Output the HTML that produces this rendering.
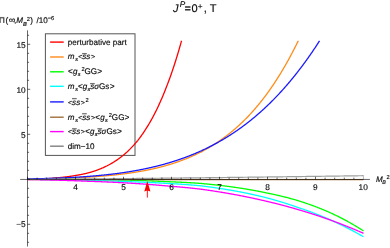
<!DOCTYPE html>
<html><head><meta charset="utf-8"><style>
html,body{margin:0;padding:0;background:#fff;}
svg{display:block;}
text{font-family:"Liberation Sans",sans-serif;}
</style></head><body>
<svg width="390" height="248" viewBox="0 0 390 248">
<rect width="390" height="248" fill="#fff"/>
<rect x="45.4" y="33.8" width="89.6" height="121.6" fill="#fff" stroke="#555" stroke-width="1"/>
<path d="M27.50,179.30 L27.98,179.30 L28.46,179.29 L28.94,179.29 L29.42,179.28 L29.90,179.28 L30.38,179.27 L30.86,179.27 L31.34,179.26 L31.82,179.25 L32.30,179.24 L32.78,179.24 L33.26,179.23 L33.74,179.22 L34.22,179.21 L34.70,179.20 L35.18,179.20 L35.66,179.19 L36.14,179.18 L36.62,179.17 L37.10,179.16 L37.58,179.14 L38.06,179.13 L38.54,179.12 L39.02,179.11 L39.50,179.10 L39.98,179.08 L40.46,179.07 L40.94,179.06 L41.42,179.04 L41.90,179.03 L42.38,179.00 L42.86,178.97 L43.34,178.93 L43.82,178.90 L44.30,178.87 L44.78,178.84 L45.26,178.80 L45.74,178.77 L46.22,178.74 L46.70,178.70 L47.18,178.67 L47.66,178.63 L48.14,178.59 L48.62,178.56 L49.10,178.52 L49.58,178.48 L50.06,178.44 L50.54,178.40 L51.02,178.36 L51.50,178.32 L51.98,178.28 L52.46,178.24 L52.94,178.19 L53.42,178.15 L53.90,178.10 L54.38,178.06 L54.86,178.01 L55.34,177.97 L55.82,177.92 L56.30,177.87 L56.78,177.83 L57.26,177.79 L57.74,177.75 L58.22,177.70 L58.70,177.66 L59.18,177.62 L59.66,177.57 L60.14,177.53 L60.62,177.48 L61.10,177.43 L61.58,177.38 L62.06,177.33 L62.54,177.28 L63.02,177.23 L63.50,177.18 L63.98,177.12 L64.46,177.07 L64.94,177.01 L65.42,176.96 L65.90,176.90 L66.38,176.84 L66.86,176.78 L67.34,176.72 L67.82,176.65 L68.30,176.59 L68.78,176.53 L69.26,176.46 L69.74,176.39 L70.22,176.32 L70.70,176.25 L71.18,176.18 L71.66,176.11 L72.14,176.04 L72.62,175.96 L73.10,175.88 L73.58,175.81 L74.06,175.73 L74.54,175.65 L75.02,175.56 L75.50,175.48 L75.98,175.40 L76.46,175.33 L76.94,175.25 L77.42,175.17 L77.90,175.08 L78.38,175.00 L78.86,174.91 L79.34,174.83 L79.82,174.74 L80.30,174.65 L80.78,174.55 L81.26,174.46 L81.74,174.36 L82.22,174.27 L82.70,174.17 L83.18,174.06 L83.66,173.96 L84.14,173.86 L84.62,173.75 L85.10,173.64 L85.58,173.53 L86.06,173.41 L86.54,173.30 L87.02,173.18 L87.50,173.06 L87.98,172.94 L88.46,172.82 L88.94,172.69 L89.42,172.56 L89.90,172.43 L90.38,172.29 L90.86,172.15 L91.34,172.01 L91.82,171.86 L92.30,171.72 L92.78,171.57 L93.26,171.41 L93.74,171.26 L94.22,171.10 L94.70,170.94 L95.18,170.78 L95.66,170.61 L96.14,170.45 L96.62,170.27 L97.10,170.10 L97.58,169.92 L98.06,169.74 L98.54,169.56 L99.02,169.38 L99.50,169.19 L99.98,169.00 L100.46,168.80 L100.94,168.61 L101.42,168.41 L101.90,168.20 L102.38,168.00 L102.86,167.79 L103.34,167.57 L103.82,167.36 L104.30,167.14 L104.78,166.91 L105.26,166.69 L105.74,166.46 L106.22,166.22 L106.70,165.99 L107.18,165.74 L107.66,165.50 L108.14,165.25 L108.62,165.00 L109.10,164.74 L109.58,164.48 L110.06,164.22 L110.54,163.95 L111.02,163.68 L111.50,163.40 L111.98,163.12 L112.46,162.84 L112.94,162.55 L113.42,162.26 L113.90,161.96 L114.38,161.66 L114.86,161.36 L115.34,161.05 L115.82,160.73 L116.30,160.41 L116.78,160.09 L117.26,159.76 L117.74,159.43 L118.22,159.09 L118.70,158.75 L119.18,158.40 L119.66,158.05 L120.14,157.69 L120.62,157.33 L121.10,156.96 L121.58,156.59 L122.06,156.21 L122.54,155.82 L123.02,155.44 L123.50,155.04 L123.98,154.64 L124.46,154.23 L124.94,153.82 L125.42,153.40 L125.90,152.98 L126.38,152.55 L126.86,152.12 L127.34,151.67 L127.82,151.23 L128.30,150.77 L128.78,150.31 L129.26,149.85 L129.74,149.38 L130.22,148.90 L130.70,148.41 L131.18,147.92 L131.66,147.42 L132.14,146.92 L132.62,146.41 L133.10,145.89 L133.58,145.36 L134.06,144.83 L134.54,144.29 L135.02,143.75 L135.50,143.19 L135.98,142.63 L136.46,142.07 L136.94,141.49 L137.42,140.91 L137.90,140.32 L138.38,139.70 L138.86,139.08 L139.34,138.44 L139.82,137.80 L140.30,137.16 L140.78,136.50 L141.26,135.84 L141.74,135.16 L142.22,134.48 L142.70,133.79 L143.18,133.10 L143.66,132.39 L144.14,131.67 L144.62,130.95 L145.10,130.22 L145.58,129.48 L146.06,128.72 L146.54,127.96 L147.02,127.19 L147.50,126.42 L147.98,125.63 L148.46,124.83 L148.94,124.02 L149.42,123.21 L149.90,122.38 L150.38,121.54 L150.86,120.69 L151.34,119.84 L151.82,118.97 L152.30,118.09 L152.78,117.20 L153.26,116.30 L153.74,115.39 L154.22,114.47 L154.70,113.53 L155.18,112.59 L155.66,111.63 L156.14,110.67 L156.62,109.69 L157.10,108.70 L157.58,107.70 L158.06,106.68 L158.54,105.66 L159.02,104.62 L159.50,103.57 L159.98,102.51 L160.46,101.44 L160.94,100.35 L161.42,99.26 L161.90,98.15 L162.38,97.02 L162.86,95.89 L163.34,94.74 L163.82,93.57 L164.30,92.40 L164.78,91.21 L165.26,90.01 L165.74,88.81 L166.22,87.59 L166.70,86.36 L167.18,85.12 L167.66,83.87 L168.14,82.60 L168.62,81.31 L169.10,80.01 L169.58,78.70 L170.06,77.37 L170.54,76.02 L171.02,74.67 L171.50,73.29 L171.98,71.90 L172.46,70.50 L172.94,69.07 L173.42,67.64 L173.90,66.18 L174.38,64.71 L174.86,63.23 L175.34,61.73 L175.82,60.21 L176.30,58.67 L176.78,57.12 L177.26,55.55 L177.74,53.96 L178.22,52.36 L178.70,50.73 L179.18,49.09 L179.66,47.44 L180.14,45.76 L180.62,44.07 L181.10,42.35 L181.53,40.79" stroke="#ff0000" stroke-width="1.3" fill="none" stroke-linejoin="round"/>
<path d="M27.50,178.94 L27.98,178.93 L28.46,178.93 L28.94,178.92 L29.42,178.91 L29.90,178.91 L30.38,178.90 L30.86,178.90 L31.34,178.89 L31.82,178.88 L32.30,178.88 L32.78,178.87 L33.26,178.86 L33.74,178.85 L34.22,178.85 L34.70,178.84 L35.18,178.83 L35.66,178.83 L36.14,178.82 L36.62,178.81 L37.10,178.80 L37.58,178.80 L38.06,178.79 L38.54,178.78 L39.02,178.77 L39.50,178.76 L39.98,178.76 L40.46,178.75 L40.94,178.74 L41.42,178.73 L41.90,178.72 L42.38,178.71 L42.86,178.70 L43.34,178.69 L43.82,178.68 L44.30,178.68 L44.78,178.67 L45.26,178.66 L45.74,178.65 L46.22,178.64 L46.70,178.63 L47.18,178.62 L47.66,178.61 L48.14,178.60 L48.62,178.59 L49.10,178.57 L49.58,178.56 L50.06,178.55 L50.54,178.54 L51.02,178.53 L51.50,178.52 L51.98,178.51 L52.46,178.50 L52.94,178.48 L53.42,178.47 L53.90,178.46 L54.38,178.45 L54.86,178.44 L55.34,178.42 L55.82,178.41 L56.30,178.40 L56.78,178.38 L57.26,178.37 L57.74,178.36 L58.22,178.34 L58.70,178.33 L59.18,178.32 L59.66,178.30 L60.14,178.29 L60.62,178.27 L61.10,178.26 L61.58,178.24 L62.06,178.23 L62.54,178.21 L63.02,178.20 L63.50,178.18 L63.98,178.17 L64.46,178.15 L64.94,178.14 L65.42,178.12 L65.90,178.10 L66.38,178.09 L66.86,178.07 L67.34,178.05 L67.82,178.03 L68.30,178.02 L68.78,178.00 L69.26,177.98 L69.74,177.96 L70.22,177.94 L70.70,177.93 L71.18,177.91 L71.66,177.89 L72.14,177.87 L72.62,177.85 L73.10,177.83 L73.58,177.81 L74.06,177.79 L74.54,177.77 L75.02,177.75 L75.50,177.73 L75.98,177.71 L76.46,177.68 L76.94,177.66 L77.42,177.64 L77.90,177.62 L78.38,177.60 L78.86,177.57 L79.34,177.55 L79.82,177.53 L80.30,177.50 L80.78,177.48 L81.26,177.46 L81.74,177.43 L82.22,177.41 L82.70,177.38 L83.18,177.36 L83.66,177.33 L84.14,177.31 L84.62,177.28 L85.10,177.25 L85.58,177.23 L86.06,177.20 L86.54,177.17 L87.02,177.15 L87.50,177.12 L87.98,177.09 L88.46,177.06 L88.94,177.03 L89.42,177.00 L89.90,176.98 L90.38,176.95 L90.86,176.92 L91.34,176.89 L91.82,176.85 L92.30,176.82 L92.78,176.79 L93.26,176.76 L93.74,176.73 L94.22,176.70 L94.70,176.66 L95.18,176.63 L95.66,176.60 L96.14,176.56 L96.62,176.53 L97.10,176.49 L97.58,176.46 L98.06,176.42 L98.54,176.39 L99.02,176.35 L99.50,176.32 L99.98,176.28 L100.46,176.24 L100.94,176.20 L101.42,176.17 L101.90,176.13 L102.38,176.09 L102.86,176.05 L103.34,176.01 L103.82,175.97 L104.30,175.93 L104.78,175.89 L105.26,175.85 L105.74,175.81 L106.22,175.76 L106.70,175.72 L107.18,175.68 L107.66,175.63 L108.14,175.59 L108.62,175.55 L109.10,175.50 L109.58,175.46 L110.06,175.41 L110.54,175.36 L111.02,175.32 L111.50,175.27 L111.98,175.22 L112.46,175.17 L112.94,175.13 L113.42,175.08 L113.90,175.03 L114.38,174.98 L114.86,174.93 L115.34,174.88 L115.82,174.82 L116.30,174.77 L116.78,174.72 L117.26,174.67 L117.74,174.61 L118.22,174.56 L118.70,174.50 L119.18,174.45 L119.66,174.39 L120.14,174.33 L120.62,174.28 L121.10,174.22 L121.58,174.16 L122.06,174.10 L122.54,174.04 L123.02,173.98 L123.50,173.92 L123.98,173.86 L124.46,173.80 L124.94,173.74 L125.42,173.67 L125.90,173.61 L126.38,173.55 L126.86,173.48 L127.34,173.42 L127.82,173.35 L128.30,173.28 L128.78,173.22 L129.26,173.15 L129.74,173.08 L130.22,173.01 L130.70,172.94 L131.18,172.87 L131.66,172.80 L132.14,172.73 L132.62,172.65 L133.10,172.58 L133.58,172.51 L134.06,172.43 L134.54,172.36 L135.02,172.28 L135.50,172.20 L135.98,172.13 L136.46,172.05 L136.94,171.97 L137.42,171.89 L137.90,171.81 L138.38,171.73 L138.86,171.64 L139.34,171.56 L139.82,171.48 L140.30,171.39 L140.78,171.31 L141.26,171.22 L141.74,171.14 L142.22,171.05 L142.70,170.96 L143.18,170.87 L143.66,170.78 L144.14,170.69 L144.62,170.60 L145.10,170.51 L145.58,170.41 L146.06,170.32 L146.54,170.22 L147.02,170.13 L147.50,170.03 L147.98,169.93 L148.46,169.83 L148.94,169.73 L149.42,169.63 L149.90,169.53 L150.38,169.43 L150.86,169.33 L151.34,169.22 L151.82,169.12 L152.30,169.01 L152.78,168.91 L153.26,168.80 L153.74,168.69 L154.22,168.58 L154.70,168.47 L155.18,168.36 L155.66,168.25 L156.14,168.13 L156.62,168.02 L157.10,167.90 L157.58,167.78 L158.06,167.67 L158.54,167.55 L159.02,167.43 L159.50,167.31 L159.98,167.19 L160.46,167.06 L160.94,166.94 L161.42,166.81 L161.90,166.69 L162.38,166.56 L162.86,166.43 L163.34,166.30 L163.82,166.17 L164.30,166.04 L164.78,165.91 L165.26,165.77 L165.74,165.64 L166.22,165.50 L166.70,165.37 L167.18,165.23 L167.66,165.09 L168.14,164.95 L168.62,164.80 L169.10,164.66 L169.58,164.52 L170.06,164.37 L170.54,164.22 L171.02,164.07 L171.50,163.92 L171.98,163.77 L172.46,163.62 L172.94,163.47 L173.42,163.31 L173.90,163.16 L174.38,163.00 L174.86,162.84 L175.34,162.68 L175.82,162.52 L176.30,162.36 L176.78,162.19 L177.26,162.03 L177.74,161.86 L178.22,161.69 L178.70,161.52 L179.18,161.35 L179.66,161.18 L180.14,161.01 L180.62,160.83 L181.10,160.66 L181.58,160.48 L182.06,160.30 L182.54,160.12 L183.02,159.94 L183.50,159.75 L183.98,159.57 L184.46,159.38 L184.94,159.19 L185.42,159.00 L185.90,158.81 L186.38,158.62 L186.86,158.42 L187.34,158.23 L187.82,158.03 L188.30,157.83 L188.78,157.63 L189.26,157.43 L189.74,157.22 L190.22,157.02 L190.70,156.81 L191.18,156.60 L191.66,156.39 L192.14,156.18 L192.62,155.96 L193.10,155.75 L193.58,155.53 L194.06,155.31 L194.54,155.09 L195.02,154.87 L195.50,154.64 L195.98,154.42 L196.46,154.19 L196.94,153.96 L197.42,153.73 L197.90,153.49 L198.38,153.26 L198.86,153.02 L199.34,152.78 L199.82,152.54 L200.30,152.30 L200.78,152.05 L201.26,151.81 L201.74,151.56 L202.22,151.31 L202.70,151.06 L203.18,150.80 L203.66,150.55 L204.14,150.29 L204.62,150.03 L205.10,149.77 L205.58,149.50 L206.06,149.24 L206.54,148.97 L207.02,148.70 L207.50,148.43 L207.98,148.15 L208.46,147.87 L208.94,147.60 L209.42,147.32 L209.90,147.03 L210.38,146.75 L210.86,146.46 L211.34,146.17 L211.82,145.88 L212.30,145.59 L212.78,145.29 L213.26,144.99 L213.74,144.69 L214.22,144.39 L214.70,144.08 L215.18,143.78 L215.66,143.47 L216.14,143.16 L216.62,142.84 L217.10,142.53 L217.58,142.21 L218.06,141.89 L218.54,141.56 L219.02,141.24 L219.50,140.91 L219.98,140.58 L220.46,140.24 L220.94,139.91 L221.42,139.57 L221.90,139.23 L222.38,138.89 L222.86,138.54 L223.34,138.19 L223.82,137.84 L224.30,137.49 L224.78,137.13 L225.26,136.78 L225.74,136.42 L226.22,136.05 L226.70,135.69 L227.18,135.32 L227.66,134.94 L228.14,134.57 L228.62,134.19 L229.10,133.81 L229.58,133.43 L230.06,133.05 L230.54,132.66 L231.02,132.27 L231.50,131.87 L231.98,131.48 L232.46,131.08 L232.94,130.68 L233.42,130.27 L233.90,129.86 L234.38,129.45 L234.86,129.04 L235.34,128.62 L235.82,128.20 L236.30,127.78 L236.78,127.36 L237.26,126.93 L237.74,126.50 L238.22,126.06 L238.70,125.62 L239.18,125.18 L239.66,124.74 L240.14,124.29 L240.62,123.84 L241.10,123.39 L241.58,122.93 L242.06,122.47 L242.54,122.01 L243.02,121.54 L243.50,121.07 L243.98,120.60 L244.46,120.13 L244.94,119.65 L245.42,119.16 L245.90,118.68 L246.38,118.19 L246.86,117.70 L247.34,117.20 L247.82,116.70 L248.30,116.20 L248.78,115.69 L249.26,115.18 L249.74,114.67 L250.22,114.15 L250.70,113.63 L251.18,113.11 L251.66,112.58 L252.14,112.05 L252.62,111.52 L253.10,110.98 L253.58,110.43 L254.06,109.89 L254.54,109.34 L255.02,108.79 L255.50,108.23 L255.98,107.67 L256.46,107.11 L256.94,106.54 L257.42,105.97 L257.90,105.39 L258.38,104.81 L258.86,104.23 L259.34,103.64 L259.82,103.05 L260.30,102.45 L260.78,101.85 L261.26,101.25 L261.74,100.64 L262.22,100.03 L262.70,99.41 L263.18,98.80 L263.66,98.17 L264.14,97.54 L264.62,96.91 L265.10,96.28 L265.58,95.63 L266.06,94.99 L266.54,94.34 L267.02,93.69 L267.50,93.03 L267.98,92.37 L268.46,91.70 L268.94,91.03 L269.42,90.36 L269.90,89.68 L270.38,88.99 L270.86,88.31 L271.34,87.61 L271.82,86.92 L272.30,86.21 L272.78,85.51 L273.26,84.80 L273.74,84.08 L274.22,83.36 L274.70,82.64 L275.18,81.91 L275.66,81.17 L276.14,80.43 L276.62,79.69 L277.10,78.94 L277.58,78.19 L278.06,77.43 L278.54,76.67 L279.02,75.90 L279.50,75.13 L279.98,74.35 L280.46,73.57 L280.94,72.78 L281.42,71.99 L281.90,71.19 L282.38,70.38 L282.86,69.58 L283.34,68.76 L283.82,67.94 L284.30,67.12 L284.78,66.29 L285.26,65.46 L285.74,64.62 L286.22,63.78 L286.70,62.93 L287.18,62.07 L287.66,61.21 L288.14,60.34 L288.62,59.47 L289.10,58.60 L289.58,57.71 L290.06,56.83 L290.54,55.93 L291.02,55.03 L291.50,54.13 L291.98,53.22 L292.46,52.30 L292.94,51.38 L293.42,50.45 L293.90,49.52 L294.38,48.58 L294.86,47.64 L295.34,46.69 L295.82,45.73 L296.30,44.77 L296.78,43.80 L297.26,42.82 L297.74,41.84 L298.22,40.86 L298.25,40.79" stroke="#ff8c1a" stroke-width="1.3" fill="none" stroke-linejoin="round"/>
<path d="M27.50,179.34 L27.98,179.34 L28.46,179.34 L28.94,179.34 L29.42,179.34 L29.90,179.34 L30.38,179.34 L30.86,179.34 L31.34,179.34 L31.82,179.34 L32.30,179.35 L32.78,179.35 L33.26,179.35 L33.74,179.35 L34.22,179.35 L34.70,179.35 L35.18,179.35 L35.66,179.35 L36.14,179.35 L36.62,179.35 L37.10,179.36 L37.58,179.36 L38.06,179.36 L38.54,179.36 L39.02,179.36 L39.50,179.36 L39.98,179.36 L40.46,179.36 L40.94,179.36 L41.42,179.36 L41.90,179.37 L42.38,179.37 L42.86,179.37 L43.34,179.37 L43.82,179.37 L44.30,179.37 L44.78,179.37 L45.26,179.37 L45.74,179.38 L46.22,179.38 L46.70,179.38 L47.18,179.38 L47.66,179.38 L48.14,179.38 L48.62,179.38 L49.10,179.39 L49.58,179.39 L50.06,179.39 L50.54,179.39 L51.02,179.39 L51.50,179.39 L51.98,179.39 L52.46,179.40 L52.94,179.40 L53.42,179.40 L53.90,179.40 L54.38,179.40 L54.86,179.40 L55.34,179.41 L55.82,179.41 L56.30,179.41 L56.78,179.41 L57.26,179.41 L57.74,179.42 L58.22,179.42 L58.70,179.42 L59.18,179.42 L59.66,179.42 L60.14,179.42 L60.62,179.43 L61.10,179.43 L61.58,179.43 L62.06,179.43 L62.54,179.43 L63.02,179.44 L63.50,179.44 L63.98,179.44 L64.46,179.44 L64.94,179.45 L65.42,179.45 L65.90,179.45 L66.38,179.45 L66.86,179.46 L67.34,179.46 L67.82,179.46 L68.30,179.46 L68.78,179.47 L69.26,179.47 L69.74,179.47 L70.22,179.47 L70.70,179.48 L71.18,179.48 L71.66,179.48 L72.14,179.48 L72.62,179.49 L73.10,179.49 L73.58,179.49 L74.06,179.49 L74.54,179.50 L75.02,179.50 L75.50,179.50 L75.98,179.51 L76.46,179.51 L76.94,179.51 L77.42,179.52 L77.90,179.52 L78.38,179.52 L78.86,179.53 L79.34,179.53 L79.82,179.53 L80.30,179.54 L80.78,179.54 L81.26,179.54 L81.74,179.55 L82.22,179.55 L82.70,179.55 L83.18,179.56 L83.66,179.56 L84.14,179.56 L84.62,179.57 L85.10,179.57 L85.58,179.58 L86.06,179.58 L86.54,179.58 L87.02,179.59 L87.50,179.59 L87.98,179.60 L88.46,179.60 L88.94,179.60 L89.42,179.61 L89.90,179.61 L90.38,179.62 L90.86,179.62 L91.34,179.63 L91.82,179.63 L92.30,179.63 L92.78,179.64 L93.26,179.64 L93.74,179.65 L94.22,179.65 L94.70,179.66 L95.18,179.66 L95.66,179.67 L96.14,179.67 L96.62,179.68 L97.10,179.68 L97.58,179.69 L98.06,179.69 L98.54,179.70 L99.02,179.70 L99.50,179.71 L99.98,179.71 L100.46,179.72 L100.94,179.73 L101.42,179.73 L101.90,179.74 L102.38,179.74 L102.86,179.75 L103.34,179.75 L103.82,179.76 L104.30,179.77 L104.78,179.77 L105.26,179.78 L105.74,179.79 L106.22,179.79 L106.70,179.80 L107.18,179.80 L107.66,179.81 L108.14,179.82 L108.62,179.82 L109.10,179.83 L109.58,179.84 L110.06,179.84 L110.54,179.85 L111.02,179.86 L111.50,179.87 L111.98,179.87 L112.46,179.88 L112.94,179.89 L113.42,179.89 L113.90,179.90 L114.38,179.91 L114.86,179.92 L115.34,179.92 L115.82,179.93 L116.30,179.94 L116.78,179.95 L117.26,179.96 L117.74,179.96 L118.22,179.97 L118.70,179.98 L119.18,179.99 L119.66,180.00 L120.14,180.01 L120.62,180.01 L121.10,180.02 L121.58,180.03 L122.06,180.04 L122.54,180.05 L123.02,180.06 L123.50,180.07 L123.98,180.08 L124.46,180.09 L124.94,180.10 L125.42,180.10 L125.90,180.11 L126.38,180.12 L126.86,180.13 L127.34,180.14 L127.82,180.15 L128.30,180.17 L128.78,180.18 L129.26,180.19 L129.74,180.21 L130.22,180.22 L130.70,180.24 L131.18,180.25 L131.66,180.26 L132.14,180.28 L132.62,180.29 L133.10,180.31 L133.58,180.32 L134.06,180.34 L134.54,180.35 L135.02,180.37 L135.50,180.38 L135.98,180.40 L136.46,180.41 L136.94,180.43 L137.42,180.44 L137.90,180.46 L138.38,180.47 L138.86,180.49 L139.34,180.51 L139.82,180.52 L140.30,180.54 L140.78,180.55 L141.26,180.57 L141.74,180.59 L142.22,180.60 L142.70,180.62 L143.18,180.64 L143.66,180.65 L144.14,180.67 L144.62,180.69 L145.10,180.71 L145.58,180.72 L146.06,180.74 L146.54,180.76 L147.02,180.78 L147.50,180.80 L147.98,180.81 L148.46,180.83 L148.94,180.85 L149.42,180.87 L149.90,180.89 L150.38,180.91 L150.86,180.93 L151.34,180.95 L151.82,180.96 L152.30,180.98 L152.78,181.00 L153.26,181.02 L153.74,181.04 L154.22,181.06 L154.70,181.08 L155.18,181.10 L155.66,181.12 L156.14,181.15 L156.62,181.17 L157.10,181.19 L157.58,181.21 L158.06,181.23 L158.54,181.25 L159.02,181.27 L159.50,181.29 L159.98,181.32 L160.46,181.34 L160.94,181.36 L161.42,181.38 L161.90,181.41 L162.38,181.43 L162.86,181.45 L163.34,181.48 L163.82,181.50 L164.30,181.52 L164.78,181.55 L165.26,181.57 L165.74,181.59 L166.22,181.62 L166.70,181.64 L167.18,181.66 L167.66,181.68 L168.14,181.70 L168.62,181.71 L169.10,181.73 L169.58,181.75 L170.06,181.77 L170.54,181.79 L171.02,181.81 L171.50,181.82 L171.98,181.84 L172.46,181.86 L172.94,181.88 L173.42,181.90 L173.90,181.92 L174.38,181.94 L174.86,181.96 L175.34,181.98 L175.82,182.00 L176.30,182.03 L176.78,182.05 L177.26,182.07 L177.74,182.09 L178.22,182.11 L178.70,182.13 L179.18,182.16 L179.66,182.18 L180.14,182.20 L180.62,182.22 L181.10,182.25 L181.58,182.27 L182.06,182.30 L182.54,182.32 L183.02,182.34 L183.50,182.37 L183.98,182.39 L184.46,182.42 L184.94,182.44 L185.42,182.47 L185.90,182.49 L186.38,182.52 L186.86,182.54 L187.34,182.57 L187.82,182.60 L188.30,182.62 L188.78,182.65 L189.26,182.68 L189.74,182.71 L190.22,182.73 L190.70,182.76 L191.18,182.79 L191.66,182.82 L192.14,182.85 L192.62,182.88 L193.10,182.90 L193.58,182.93 L194.06,182.96 L194.54,182.99 L195.02,183.02 L195.50,183.05 L195.98,183.09 L196.46,183.12 L196.94,183.15 L197.42,183.18 L197.90,183.21 L198.38,183.24 L198.86,183.28 L199.34,183.31 L199.82,183.34 L200.30,183.38 L200.78,183.42 L201.26,183.47 L201.74,183.51 L202.22,183.55 L202.70,183.60 L203.18,183.64 L203.66,183.69 L204.14,183.73 L204.62,183.78 L205.10,183.82 L205.58,183.87 L206.06,183.91 L206.54,183.96 L207.02,184.00 L207.50,184.05 L207.98,184.10 L208.46,184.15 L208.94,184.19 L209.42,184.24 L209.90,184.29 L210.38,184.34 L210.86,184.39 L211.34,184.44 L211.82,184.49 L212.30,184.54 L212.78,184.59 L213.26,184.64 L213.74,184.69 L214.22,184.74 L214.70,184.79 L215.18,184.85 L215.66,184.90 L216.14,184.95 L216.62,185.00 L217.10,185.06 L217.58,185.11 L218.06,185.17 L218.54,185.22 L219.02,185.28 L219.50,185.33 L219.98,185.39 L220.46,185.44 L220.94,185.50 L221.42,185.56 L221.90,185.61 L222.38,185.67 L222.86,185.73 L223.34,185.79 L223.82,185.85 L224.30,185.91 L224.78,185.96 L225.26,186.02 L225.74,186.09 L226.22,186.15 L226.70,186.21 L227.18,186.27 L227.66,186.33 L228.14,186.39 L228.62,186.46 L229.10,186.52 L229.58,186.58 L230.06,186.65 L230.54,186.71 L231.02,186.78 L231.50,186.84 L231.98,186.91 L232.46,186.97 L232.94,187.04 L233.42,187.11 L233.90,187.17 L234.38,187.24 L234.86,187.31 L235.34,187.38 L235.82,187.45 L236.30,187.52 L236.78,187.59 L237.26,187.66 L237.74,187.73 L238.22,187.80 L238.70,187.87 L239.18,187.94 L239.66,188.02 L240.14,188.09 L240.62,188.16 L241.10,188.24 L241.58,188.31 L242.06,188.39 L242.54,188.46 L243.02,188.54 L243.50,188.62 L243.98,188.69 L244.46,188.77 L244.94,188.85 L245.42,188.93 L245.90,189.01 L246.38,189.08 L246.86,189.16 L247.34,189.25 L247.82,189.33 L248.30,189.41 L248.78,189.49 L249.26,189.57 L249.74,189.66 L250.22,189.74 L250.70,189.82 L251.18,189.91 L251.66,189.99 L252.14,190.08 L252.62,190.17 L253.10,190.25 L253.58,190.34 L254.06,190.43 L254.54,190.52 L255.02,190.61 L255.50,190.70 L255.98,190.79 L256.46,190.88 L256.94,190.97 L257.42,191.06 L257.90,191.15 L258.38,191.24 L258.86,191.34 L259.34,191.43 L259.82,191.53 L260.30,191.62 L260.78,191.72 L261.26,191.82 L261.74,191.91 L262.22,192.01 L262.70,192.11 L263.18,192.21 L263.66,192.31 L264.14,192.41 L264.62,192.51 L265.10,192.61 L265.58,192.71 L266.06,192.81 L266.54,192.92 L267.02,193.02 L267.50,193.13 L267.98,193.22 L268.46,193.32 L268.94,193.41 L269.42,193.51 L269.90,193.61 L270.38,193.71 L270.86,193.81 L271.34,193.91 L271.82,194.01 L272.30,194.11 L272.78,194.22 L273.26,194.32 L273.74,194.42 L274.22,194.53 L274.70,194.63 L275.18,194.74 L275.66,194.84 L276.14,194.95 L276.62,195.06 L277.10,195.17 L277.58,195.28 L278.06,195.39 L278.54,195.50 L279.02,195.61 L279.50,195.72 L279.98,195.83 L280.46,195.95 L280.94,196.06 L281.42,196.18 L281.90,196.29 L282.38,196.41 L282.86,196.53 L283.34,196.64 L283.82,196.76 L284.30,196.88 L284.78,197.00 L285.26,197.12 L285.74,197.25 L286.22,197.37 L286.70,197.49 L287.18,197.62 L287.66,197.74 L288.14,197.87 L288.62,197.99 L289.10,198.12 L289.58,198.25 L290.06,198.38 L290.54,198.51 L291.02,198.64 L291.50,198.77 L291.98,198.90 L292.46,199.03 L292.94,199.17 L293.42,199.30 L293.90,199.44 L294.38,199.57 L294.86,199.71 L295.34,199.85 L295.82,199.99 L296.30,200.13 L296.78,200.27 L297.26,200.41 L297.74,200.55 L298.22,200.70 L298.70,200.85 L299.18,201.00 L299.66,201.15 L300.14,201.30 L300.62,201.45 L301.10,201.60 L301.58,201.76 L302.06,201.91 L302.54,202.07 L303.02,202.22 L303.50,202.38 L303.98,202.54 L304.46,202.70 L304.94,202.86 L305.42,203.02 L305.90,203.18 L306.38,203.34 L306.86,203.51 L307.34,203.67 L307.82,203.84 L308.30,204.00 L308.78,204.17 L309.26,204.34 L309.74,204.51 L310.22,204.68 L310.70,204.85 L311.18,205.03 L311.66,205.20 L312.14,205.37 L312.62,205.55 L313.10,205.73 L313.58,205.91 L314.06,206.08 L314.54,206.26 L315.02,206.44 L315.50,206.63 L315.98,206.81 L316.46,206.99 L316.94,207.18 L317.42,207.36 L317.90,207.55 L318.38,207.74 L318.86,207.93 L319.34,208.12 L319.82,208.31 L320.30,208.50 L320.78,208.70 L321.26,208.89 L321.74,209.09 L322.22,209.28 L322.70,209.48 L323.18,209.68 L323.66,209.88 L324.14,210.08 L324.62,210.29 L325.10,210.49 L325.58,210.69 L326.06,210.90 L326.54,211.11 L327.02,211.31 L327.50,211.52 L327.98,211.73 L328.46,211.95 L328.94,212.16 L329.42,212.37 L329.90,212.59 L330.38,212.81 L330.86,213.02 L331.34,213.24 L331.82,213.46 L332.30,213.68 L332.78,213.91 L333.26,214.13 L333.74,214.35 L334.22,214.58 L334.70,214.81 L335.18,215.04 L335.66,215.27 L336.14,215.50 L336.62,215.73 L337.10,215.96 L337.58,216.20 L338.06,216.43 L338.54,216.67 L339.02,216.91 L339.50,217.15 L339.98,217.39 L340.46,217.64 L340.94,217.88 L341.42,218.12 L341.90,218.37 L342.38,218.62 L342.86,218.87 L343.34,219.12 L343.82,219.37 L344.30,219.63 L344.78,219.88 L345.26,220.14 L345.74,220.39 L346.22,220.65 L346.70,220.91 L347.18,221.17 L347.66,221.44 L348.14,221.70 L348.62,221.97 L349.10,222.24 L349.58,222.50 L350.06,222.77 L350.54,223.05 L351.02,223.32 L351.50,223.59 L351.98,223.87 L352.46,224.15 L352.94,224.43 L353.42,224.71 L353.90,224.99 L354.38,225.27 L354.86,225.56 L355.34,225.84 L355.82,226.13 L356.30,226.42 L356.78,226.71 L357.26,227.00 L357.74,227.30 L358.22,227.59 L358.70,227.89 L359.18,228.19 L359.66,228.49 L360.14,228.79 L360.62,229.09 L361.10,229.40 L361.58,229.70 L362.06,230.01 L362.54,230.32 L363.02,230.63 L363.50,230.94" stroke="#00ff00" stroke-width="1.3" fill="none" stroke-linejoin="round"/>
<path d="M27.50,179.33 L27.98,179.34 L28.46,179.34 L28.94,179.35 L29.42,179.35 L29.90,179.36 L30.38,179.36 L30.86,179.37 L31.34,179.37 L31.82,179.38 L32.30,179.39 L32.78,179.39 L33.26,179.40 L33.74,179.40 L34.22,179.41 L34.70,179.41 L35.18,179.42 L35.66,179.42 L36.14,179.43 L36.62,179.43 L37.10,179.44 L37.58,179.44 L38.06,179.45 L38.54,179.46 L39.02,179.46 L39.50,179.47 L39.98,179.47 L40.46,179.48 L40.94,179.48 L41.42,179.49 L41.90,179.50 L42.38,179.50 L42.86,179.51 L43.34,179.51 L43.82,179.52 L44.30,179.53 L44.78,179.53 L45.26,179.54 L45.74,179.54 L46.22,179.55 L46.70,179.56 L47.18,179.56 L47.66,179.57 L48.14,179.57 L48.62,179.58 L49.10,179.59 L49.58,179.59 L50.06,179.60 L50.54,179.61 L51.02,179.61 L51.50,179.62 L51.98,179.63 L52.46,179.63 L52.94,179.64 L53.42,179.64 L53.90,179.65 L54.38,179.66 L54.86,179.67 L55.34,179.67 L55.82,179.68 L56.30,179.69 L56.78,179.69 L57.26,179.70 L57.74,179.71 L58.22,179.71 L58.70,179.72 L59.18,179.73 L59.66,179.73 L60.14,179.74 L60.62,179.75 L61.10,179.76 L61.58,179.76 L62.06,179.77 L62.54,179.78 L63.02,179.79 L63.50,179.79 L63.98,179.80 L64.46,179.81 L64.94,179.82 L65.42,179.82 L65.90,179.83 L66.38,179.84 L66.86,179.85 L67.34,179.86 L67.82,179.86 L68.30,179.87 L68.78,179.88 L69.26,179.89 L69.74,179.90 L70.22,179.91 L70.70,179.91 L71.18,179.92 L71.66,179.93 L72.14,179.94 L72.62,179.95 L73.10,179.96 L73.58,179.97 L74.06,179.97 L74.54,179.98 L75.02,179.99 L75.50,180.00 L75.98,180.01 L76.46,180.02 L76.94,180.03 L77.42,180.04 L77.90,180.05 L78.38,180.06 L78.86,180.07 L79.34,180.08 L79.82,180.08 L80.30,180.09 L80.78,180.10 L81.26,180.11 L81.74,180.12 L82.22,180.13 L82.70,180.14 L83.18,180.15 L83.66,180.16 L84.14,180.17 L84.62,180.19 L85.10,180.20 L85.58,180.21 L86.06,180.22 L86.54,180.23 L87.02,180.24 L87.50,180.25 L87.98,180.26 L88.46,180.27 L88.94,180.28 L89.42,180.29 L89.90,180.31 L90.38,180.32 L90.86,180.33 L91.34,180.35 L91.82,180.36 L92.30,180.37 L92.78,180.38 L93.26,180.40 L93.74,180.41 L94.22,180.42 L94.70,180.44 L95.18,180.45 L95.66,180.47 L96.14,180.48 L96.62,180.49 L97.10,180.51 L97.58,180.52 L98.06,180.53 L98.54,180.55 L99.02,180.56 L99.50,180.58 L99.98,180.59 L100.46,180.61 L100.94,180.62 L101.42,180.64 L101.90,180.65 L102.38,180.67 L102.86,180.68 L103.34,180.70 L103.82,180.71 L104.30,180.73 L104.78,180.74 L105.26,180.76 L105.74,180.78 L106.22,180.79 L106.70,180.81 L107.18,180.82 L107.66,180.84 L108.14,180.86 L108.62,180.87 L109.10,180.89 L109.58,180.91 L110.06,180.92 L110.54,180.94 L111.02,180.96 L111.50,180.97 L111.98,180.99 L112.46,181.01 L112.94,181.03 L113.42,181.05 L113.90,181.06 L114.38,181.08 L114.86,181.10 L115.34,181.12 L115.82,181.14 L116.30,181.15 L116.78,181.17 L117.26,181.19 L117.74,181.21 L118.22,181.23 L118.70,181.25 L119.18,181.27 L119.66,181.29 L120.14,181.31 L120.62,181.33 L121.10,181.35 L121.58,181.37 L122.06,181.39 L122.54,181.41 L123.02,181.43 L123.50,181.45 L123.98,181.47 L124.46,181.49 L124.94,181.51 L125.42,181.53 L125.90,181.55 L126.38,181.58 L126.86,181.60 L127.34,181.62 L127.82,181.64 L128.30,181.66 L128.78,181.67 L129.26,181.68 L129.74,181.70 L130.22,181.71 L130.70,181.73 L131.18,181.75 L131.66,181.76 L132.14,181.78 L132.62,181.79 L133.10,181.81 L133.58,181.82 L134.06,181.84 L134.54,181.86 L135.02,181.87 L135.50,181.89 L135.98,181.91 L136.46,181.92 L136.94,181.94 L137.42,181.96 L137.90,181.98 L138.38,182.00 L138.86,182.01 L139.34,182.03 L139.82,182.05 L140.30,182.07 L140.78,182.09 L141.26,182.11 L141.74,182.13 L142.22,182.14 L142.70,182.16 L143.18,182.18 L143.66,182.20 L144.14,182.22 L144.62,182.24 L145.10,182.27 L145.58,182.29 L146.06,182.31 L146.54,182.33 L147.02,182.35 L147.50,182.37 L147.98,182.39 L148.46,182.41 L148.94,182.44 L149.42,182.46 L149.90,182.48 L150.38,182.50 L150.86,182.53 L151.34,182.55 L151.82,182.57 L152.30,182.60 L152.78,182.62 L153.26,182.64 L153.74,182.67 L154.22,182.69 L154.70,182.72 L155.18,182.74 L155.66,182.77 L156.14,182.79 L156.62,182.82 L157.10,182.84 L157.58,182.87 L158.06,182.90 L158.54,182.92 L159.02,182.95 L159.50,182.98 L159.98,183.00 L160.46,183.03 L160.94,183.06 L161.42,183.09 L161.90,183.11 L162.38,183.14 L162.86,183.17 L163.34,183.20 L163.82,183.23 L164.30,183.26 L164.78,183.29 L165.26,183.32 L165.74,183.35 L166.22,183.38 L166.70,183.41 L167.18,183.43 L167.66,183.46 L168.14,183.48 L168.62,183.51 L169.10,183.53 L169.58,183.56 L170.06,183.58 L170.54,183.61 L171.02,183.63 L171.50,183.66 L171.98,183.69 L172.46,183.71 L172.94,183.74 L173.42,183.77 L173.90,183.79 L174.38,183.82 L174.86,183.85 L175.34,183.88 L175.82,183.91 L176.30,183.94 L176.78,183.96 L177.26,183.99 L177.74,184.02 L178.22,184.05 L178.70,184.08 L179.18,184.11 L179.66,184.15 L180.14,184.18 L180.62,184.21 L181.10,184.24 L181.58,184.27 L182.06,184.30 L182.54,184.34 L183.02,184.37 L183.50,184.40 L183.98,184.44 L184.46,184.47 L184.94,184.50 L185.42,184.54 L185.90,184.57 L186.38,184.61 L186.86,184.64 L187.34,184.68 L187.82,184.72 L188.30,184.75 L188.78,184.79 L189.26,184.83 L189.74,184.86 L190.22,184.90 L190.70,184.94 L191.18,184.98 L191.66,185.01 L192.14,185.05 L192.62,185.09 L193.10,185.13 L193.58,185.17 L194.06,185.21 L194.54,185.25 L195.02,185.29 L195.50,185.33 L195.98,185.38 L196.46,185.42 L196.94,185.46 L197.42,185.50 L197.90,185.55 L198.38,185.59 L198.86,185.63 L199.34,185.68 L199.82,185.72 L200.30,185.77 L200.78,185.83 L201.26,185.89 L201.74,185.95 L202.22,186.01 L202.70,186.06 L203.18,186.12 L203.66,186.18 L204.14,186.24 L204.62,186.31 L205.10,186.37 L205.58,186.43 L206.06,186.49 L206.54,186.55 L207.02,186.61 L207.50,186.68 L207.98,186.74 L208.46,186.80 L208.94,186.87 L209.42,186.93 L209.90,187.00 L210.38,187.06 L210.86,187.13 L211.34,187.19 L211.82,187.26 L212.30,187.33 L212.78,187.39 L213.26,187.46 L213.74,187.53 L214.22,187.60 L214.70,187.67 L215.18,187.74 L215.66,187.80 L216.14,187.87 L216.62,187.95 L217.10,188.02 L217.58,188.09 L218.06,188.16 L218.54,188.23 L219.02,188.30 L219.50,188.38 L219.98,188.45 L220.46,188.52 L220.94,188.60 L221.42,188.67 L221.90,188.75 L222.38,188.82 L222.86,188.90 L223.34,188.97 L223.82,189.05 L224.30,189.13 L224.78,189.20 L225.26,189.28 L225.74,189.36 L226.22,189.44 L226.70,189.52 L227.18,189.60 L227.66,189.68 L228.14,189.76 L228.62,189.84 L229.10,189.92 L229.58,190.00 L230.06,190.08 L230.54,190.17 L231.02,190.25 L231.50,190.33 L231.98,190.42 L232.46,190.50 L232.94,190.59 L233.42,190.67 L233.90,190.76 L234.38,190.84 L234.86,190.93 L235.34,191.02 L235.82,191.11 L236.30,191.19 L236.78,191.28 L237.26,191.37 L237.74,191.46 L238.22,191.55 L238.70,191.64 L239.18,191.73 L239.66,191.83 L240.14,191.92 L240.62,192.01 L241.10,192.10 L241.58,192.20 L242.06,192.29 L242.54,192.39 L243.02,192.48 L243.50,192.58 L243.98,192.67 L244.46,192.77 L244.94,192.87 L245.42,192.96 L245.90,193.06 L246.38,193.16 L246.86,193.26 L247.34,193.36 L247.82,193.46 L248.30,193.56 L248.78,193.66 L249.26,193.76 L249.74,193.87 L250.22,193.97 L250.70,194.07 L251.18,194.18 L251.66,194.28 L252.14,194.39 L252.62,194.49 L253.10,194.60 L253.58,194.70 L254.06,194.81 L254.54,194.92 L255.02,195.03 L255.50,195.14 L255.98,195.25 L256.46,195.36 L256.94,195.47 L257.42,195.58 L257.90,195.69 L258.38,195.80 L258.86,195.91 L259.34,196.03 L259.82,196.14 L260.30,196.25 L260.78,196.37 L261.26,196.48 L261.74,196.60 L262.22,196.72 L262.70,196.83 L263.18,196.95 L263.66,197.07 L264.14,197.19 L264.62,197.31 L265.10,197.43 L265.58,197.55 L266.06,197.67 L266.54,197.79 L267.02,197.92 L267.50,198.04 L267.98,198.17 L268.46,198.30 L268.94,198.43 L269.42,198.56 L269.90,198.69 L270.38,198.82 L270.86,198.95 L271.34,199.08 L271.82,199.22 L272.30,199.35 L272.78,199.48 L273.26,199.62 L273.74,199.75 L274.22,199.89 L274.70,200.03 L275.18,200.17 L275.66,200.30 L276.14,200.44 L276.62,200.58 L277.10,200.72 L277.58,200.86 L278.06,201.00 L278.54,201.15 L279.02,201.29 L279.50,201.43 L279.98,201.58 L280.46,201.72 L280.94,201.87 L281.42,202.01 L281.90,202.16 L282.38,202.31 L282.86,202.45 L283.34,202.60 L283.82,202.75 L284.30,202.90 L284.78,203.05 L285.26,203.20 L285.74,203.35 L286.22,203.51 L286.70,203.66 L287.18,203.81 L287.66,203.97 L288.14,204.12 L288.62,204.28 L289.10,204.44 L289.58,204.59 L290.06,204.75 L290.54,204.91 L291.02,205.07 L291.50,205.23 L291.98,205.39 L292.46,205.55 L292.94,205.72 L293.42,205.88 L293.90,206.04 L294.38,206.21 L294.86,206.37 L295.34,206.54 L295.82,206.70 L296.30,206.87 L296.78,207.04 L297.26,207.21 L297.74,207.38 L298.22,207.54 L298.70,207.70 L299.18,207.86 L299.66,208.02 L300.14,208.18 L300.62,208.34 L301.10,208.50 L301.58,208.67 L302.06,208.83 L302.54,209.00 L303.02,209.16 L303.50,209.33 L303.98,209.49 L304.46,209.66 L304.94,209.83 L305.42,210.00 L305.90,210.17 L306.38,210.34 L306.86,210.51 L307.34,210.68 L307.82,210.85 L308.30,211.03 L308.78,211.20 L309.26,211.38 L309.74,211.55 L310.22,211.73 L310.70,211.91 L311.18,212.09 L311.66,212.26 L312.14,212.44 L312.62,212.63 L313.10,212.81 L313.58,212.99 L314.06,213.17 L314.54,213.36 L315.02,213.54 L315.50,213.73 L315.98,213.91 L316.46,214.10 L316.94,214.29 L317.42,214.48 L317.90,214.67 L318.38,214.86 L318.86,215.05 L319.34,215.24 L319.82,215.43 L320.30,215.63 L320.78,215.82 L321.26,216.02 L321.74,216.21 L322.22,216.41 L322.70,216.61 L323.18,216.81 L323.66,217.01 L324.14,217.21 L324.62,217.41 L325.10,217.61 L325.58,217.81 L326.06,218.02 L326.54,218.22 L327.02,218.43 L327.50,218.63 L327.98,218.84 L328.46,219.05 L328.94,219.26 L329.42,219.47 L329.90,219.68 L330.38,219.89 L330.86,220.10 L331.34,220.32 L331.82,220.53 L332.30,220.75 L332.78,220.96 L333.26,221.18 L333.74,221.40 L334.22,221.62 L334.70,221.84 L335.18,222.06 L335.66,222.28 L336.14,222.50 L336.62,222.73 L337.10,222.95 L337.58,223.18 L338.06,223.40 L338.54,223.63 L339.02,223.86 L339.50,224.09 L339.98,224.32 L340.46,224.55 L340.94,224.78 L341.42,225.01 L341.90,225.25 L342.38,225.48 L342.86,225.72 L343.34,225.95 L343.82,226.19 L344.30,226.43 L344.78,226.67 L345.26,226.91 L345.74,227.15 L346.22,227.39 L346.70,227.64 L347.18,227.88 L347.66,228.13 L348.14,228.37 L348.62,228.62 L349.10,228.87 L349.58,229.12 L350.06,229.37 L350.54,229.62 L351.02,229.87 L351.50,230.12 L351.98,230.38 L352.46,230.63 L352.94,230.89 L353.42,231.15 L353.90,231.40 L354.38,231.66 L354.86,231.92 L355.34,232.18 L355.82,232.45 L356.30,232.71 L356.78,232.97 L357.26,233.24 L357.74,233.50 L358.22,233.77 L358.70,234.04 L359.18,234.31 L359.66,234.58 L360.14,234.85 L360.62,235.12 L361.10,235.40 L361.58,235.67 L362.06,235.95 L362.54,236.22 L363.02,236.50 L363.50,236.78" stroke="#00ffff" stroke-width="1.3" fill="none" stroke-linejoin="round"/>
<path d="M27.50,178.89 L27.98,178.88 L28.46,178.87 L28.94,178.86 L29.42,178.86 L29.90,178.85 L30.38,178.84 L30.86,178.83 L31.34,178.82 L31.82,178.81 L32.30,178.80 L32.78,178.79 L33.26,178.78 L33.74,178.77 L34.22,178.77 L34.70,178.76 L35.18,178.75 L35.66,178.74 L36.14,178.73 L36.62,178.72 L37.10,178.70 L37.58,178.69 L38.06,178.68 L38.54,178.67 L39.02,178.66 L39.50,178.65 L39.98,178.64 L40.46,178.63 L40.94,178.62 L41.42,178.60 L41.90,178.59 L42.38,178.58 L42.86,178.57 L43.34,178.56 L43.82,178.54 L44.30,178.53 L44.78,178.52 L45.26,178.50 L45.74,178.49 L46.22,178.48 L46.70,178.46 L47.18,178.45 L47.66,178.44 L48.14,178.42 L48.62,178.41 L49.10,178.39 L49.58,178.38 L50.06,178.36 L50.54,178.35 L51.02,178.33 L51.50,178.32 L51.98,178.30 L52.46,178.29 L52.94,178.27 L53.42,178.25 L53.90,178.24 L54.38,178.22 L54.86,178.20 L55.34,178.19 L55.82,178.17 L56.30,178.15 L56.78,178.13 L57.26,178.12 L57.74,178.10 L58.22,178.08 L58.70,178.06 L59.18,178.04 L59.66,178.02 L60.14,178.00 L60.62,177.98 L61.10,177.97 L61.58,177.95 L62.06,177.92 L62.54,177.90 L63.02,177.88 L63.50,177.86 L63.98,177.84 L64.46,177.82 L64.94,177.80 L65.42,177.78 L65.90,177.75 L66.38,177.73 L66.86,177.71 L67.34,177.69 L67.82,177.66 L68.30,177.64 L68.78,177.62 L69.26,177.59 L69.74,177.57 L70.22,177.54 L70.70,177.52 L71.18,177.49 L71.66,177.47 L72.14,177.44 L72.62,177.42 L73.10,177.39 L73.58,177.37 L74.06,177.34 L74.54,177.31 L75.02,177.28 L75.50,177.26 L75.98,177.23 L76.46,177.20 L76.94,177.17 L77.42,177.14 L77.90,177.12 L78.38,177.09 L78.86,177.06 L79.34,177.03 L79.82,177.00 L80.30,176.97 L80.78,176.93 L81.26,176.90 L81.74,176.87 L82.22,176.84 L82.70,176.81 L83.18,176.78 L83.66,176.74 L84.14,176.71 L84.62,176.68 L85.10,176.64 L85.58,176.61 L86.06,176.57 L86.54,176.54 L87.02,176.50 L87.50,176.47 L87.98,176.43 L88.46,176.39 L88.94,176.36 L89.42,176.32 L89.90,176.28 L90.38,176.25 L90.86,176.21 L91.34,176.17 L91.82,176.13 L92.30,176.09 L92.78,176.05 L93.26,176.01 L93.74,175.97 L94.22,175.93 L94.70,175.89 L95.18,175.85 L95.66,175.81 L96.14,175.76 L96.62,175.72 L97.10,175.68 L97.58,175.63 L98.06,175.59 L98.54,175.55 L99.02,175.50 L99.50,175.46 L99.98,175.41 L100.46,175.36 L100.94,175.32 L101.42,175.27 L101.90,175.22 L102.38,175.17 L102.86,175.13 L103.34,175.08 L103.82,175.03 L104.30,174.98 L104.78,174.93 L105.26,174.88 L105.74,174.83 L106.22,174.78 L106.70,174.72 L107.18,174.67 L107.66,174.62 L108.14,174.57 L108.62,174.51 L109.10,174.46 L109.58,174.40 L110.06,174.35 L110.54,174.29 L111.02,174.24 L111.50,174.18 L111.98,174.12 L112.46,174.06 L112.94,174.01 L113.42,173.95 L113.90,173.89 L114.38,173.83 L114.86,173.77 L115.34,173.71 L115.82,173.65 L116.30,173.58 L116.78,173.52 L117.26,173.46 L117.74,173.40 L118.22,173.33 L118.70,173.27 L119.18,173.20 L119.66,173.14 L120.14,173.07 L120.62,173.00 L121.10,172.94 L121.58,172.87 L122.06,172.80 L122.54,172.73 L123.02,172.66 L123.50,172.59 L123.98,172.52 L124.46,172.45 L124.94,172.38 L125.42,172.31 L125.90,172.23 L126.38,172.16 L126.86,172.08 L127.34,172.01 L127.82,171.93 L128.30,171.86 L128.78,171.78 L129.26,171.70 L129.74,171.63 L130.22,171.55 L130.70,171.47 L131.18,171.39 L131.66,171.31 L132.14,171.23 L132.62,171.15 L133.10,171.06 L133.58,170.98 L134.06,170.90 L134.54,170.81 L135.02,170.73 L135.50,170.64 L135.98,170.56 L136.46,170.47 L136.94,170.38 L137.42,170.29 L137.90,170.20 L138.38,170.12 L138.86,170.03 L139.34,169.93 L139.82,169.84 L140.30,169.75 L140.78,169.66 L141.26,169.56 L141.74,169.47 L142.22,169.37 L142.70,169.28 L143.18,169.18 L143.66,169.08 L144.14,168.98 L144.62,168.89 L145.10,168.79 L145.58,168.69 L146.06,168.58 L146.54,168.48 L147.02,168.38 L147.50,168.28 L147.98,168.17 L148.46,168.07 L148.94,167.96 L149.42,167.85 L149.90,167.75 L150.38,167.64 L150.86,167.53 L151.34,167.42 L151.82,167.31 L152.30,167.20 L152.78,167.09 L153.26,166.97 L153.74,166.86 L154.22,166.75 L154.70,166.63 L155.18,166.51 L155.66,166.40 L156.14,166.28 L156.62,166.16 L157.10,166.04 L157.58,165.92 L158.06,165.80 L158.54,165.68 L159.02,165.55 L159.50,165.43 L159.98,165.31 L160.46,165.18 L160.94,165.05 L161.42,164.93 L161.90,164.80 L162.38,164.67 L162.86,164.54 L163.34,164.41 L163.82,164.28 L164.30,164.14 L164.78,164.01 L165.26,163.88 L165.74,163.74 L166.22,163.60 L166.70,163.47 L167.18,163.33 L167.66,163.19 L168.14,163.05 L168.62,162.91 L169.10,162.77 L169.58,162.62 L170.06,162.48 L170.54,162.33 L171.02,162.19 L171.50,162.04 L171.98,161.89 L172.46,161.74 L172.94,161.59 L173.42,161.44 L173.90,161.29 L174.38,161.14 L174.86,160.98 L175.34,160.83 L175.82,160.67 L176.30,160.52 L176.78,160.36 L177.26,160.20 L177.74,160.04 L178.22,159.88 L178.70,159.71 L179.18,159.55 L179.66,159.39 L180.14,159.22 L180.62,159.05 L181.10,158.89 L181.58,158.72 L182.06,158.55 L182.54,158.38 L183.02,158.21 L183.50,158.03 L183.98,157.86 L184.46,157.68 L184.94,157.51 L185.42,157.33 L185.90,157.15 L186.38,156.97 L186.86,156.79 L187.34,156.61 L187.82,156.42 L188.30,156.24 L188.78,156.05 L189.26,155.87 L189.74,155.68 L190.22,155.49 L190.70,155.30 L191.18,155.11 L191.66,154.92 L192.14,154.72 L192.62,154.53 L193.10,154.33 L193.58,154.13 L194.06,153.93 L194.54,153.73 L195.02,153.53 L195.50,153.33 L195.98,153.13 L196.46,152.92 L196.94,152.72 L197.42,152.51 L197.90,152.30 L198.38,152.09 L198.86,151.88 L199.34,151.67 L199.82,151.45 L200.30,151.24 L200.78,151.02 L201.26,150.80 L201.74,150.59 L202.22,150.36 L202.70,150.14 L203.18,149.92 L203.66,149.70 L204.14,149.47 L204.62,149.24 L205.10,149.02 L205.58,148.79 L206.06,148.55 L206.54,148.32 L207.02,148.09 L207.50,147.85 L207.98,147.62 L208.46,147.38 L208.94,147.14 L209.42,146.90 L209.90,146.66 L210.38,146.41 L210.86,146.17 L211.34,145.92 L211.82,145.67 L212.30,145.43 L212.78,145.17 L213.26,144.92 L213.74,144.67 L214.22,144.41 L214.70,144.16 L215.18,143.90 L215.66,143.64 L216.14,143.38 L216.62,143.12 L217.10,142.85 L217.58,142.59 L218.06,142.32 L218.54,142.05 L219.02,141.78 L219.50,141.51 L219.98,141.24 L220.46,140.96 L220.94,140.69 L221.42,140.41 L221.90,140.13 L222.38,139.85 L222.86,139.57 L223.34,139.28 L223.82,139.00 L224.30,138.71 L224.78,138.42 L225.26,138.13 L225.74,137.84 L226.22,137.55 L226.70,137.25 L227.18,136.96 L227.66,136.66 L228.14,136.36 L228.62,136.06 L229.10,135.75 L229.58,135.45 L230.06,135.14 L230.54,134.83 L231.02,134.52 L231.50,134.21 L231.98,133.90 L232.46,133.58 L232.94,133.27 L233.42,132.95 L233.90,132.63 L234.38,132.30 L234.86,131.98 L235.34,131.66 L235.82,131.33 L236.30,131.00 L236.78,130.67 L237.26,130.34 L237.74,130.00 L238.22,129.67 L238.70,129.33 L239.18,128.99 L239.66,128.65 L240.14,128.30 L240.62,127.96 L241.10,127.61 L241.58,127.26 L242.06,126.91 L242.54,126.56 L243.02,126.21 L243.50,125.85 L243.98,125.49 L244.46,125.13 L244.94,124.77 L245.42,124.41 L245.90,124.04 L246.38,123.68 L246.86,123.31 L247.34,122.93 L247.82,122.56 L248.30,122.19 L248.78,121.81 L249.26,121.43 L249.74,121.05 L250.22,120.67 L250.70,120.28 L251.18,119.90 L251.66,119.51 L252.14,119.12 L252.62,118.72 L253.10,118.33 L253.58,117.93 L254.06,117.53 L254.54,117.13 L255.02,116.73 L255.50,116.33 L255.98,115.92 L256.46,115.51 L256.94,115.10 L257.42,114.69 L257.90,114.27 L258.38,113.85 L258.86,113.43 L259.34,113.01 L259.82,112.59 L260.30,112.16 L260.78,111.74 L261.26,111.31 L261.74,110.88 L262.22,110.44 L262.70,110.00 L263.18,109.57 L263.66,109.13 L264.14,108.68 L264.62,108.24 L265.10,107.79 L265.58,107.34 L266.06,106.89 L266.54,106.44 L267.02,105.98 L267.50,105.52 L267.98,105.06 L268.46,104.60 L268.94,104.14 L269.42,103.67 L269.90,103.20 L270.38,102.73 L270.86,102.25 L271.34,101.78 L271.82,101.30 L272.30,100.82 L272.78,100.33 L273.26,99.85 L273.74,99.36 L274.22,98.87 L274.70,98.38 L275.18,97.88 L275.66,97.39 L276.14,96.89 L276.62,96.39 L277.10,95.88 L277.58,95.37 L278.06,94.87 L278.54,94.35 L279.02,93.84 L279.50,93.32 L279.98,92.81 L280.46,92.28 L280.94,91.76 L281.42,91.23 L281.90,90.71 L282.38,90.17 L282.86,89.64 L283.34,89.11 L283.82,88.57 L284.30,88.03 L284.78,87.48 L285.26,86.94 L285.74,86.39 L286.22,85.84 L286.70,85.28 L287.18,84.73 L287.66,84.17 L288.14,83.61 L288.62,83.04 L289.10,82.48 L289.58,81.91 L290.06,81.33 L290.54,80.76 L291.02,80.18 L291.50,79.60 L291.98,79.02 L292.46,78.44 L292.94,77.85 L293.42,77.26 L293.90,76.66 L294.38,76.07 L294.86,75.47 L295.34,74.87 L295.82,74.27 L296.30,73.66 L296.78,73.05 L297.26,72.44 L297.74,71.82 L298.22,71.21 L298.70,70.59 L299.18,69.96 L299.66,69.34 L300.14,68.71 L300.62,68.08 L301.10,67.44 L301.58,66.80 L302.06,66.17 L302.54,65.52 L303.02,64.88 L303.50,64.23 L303.98,63.58 L304.46,62.92 L304.94,62.27 L305.42,61.61 L305.90,60.94 L306.38,60.28 L306.86,59.61 L307.34,58.94 L307.82,58.26 L308.30,57.58 L308.78,56.90 L309.26,56.22 L309.74,55.53 L310.22,54.84 L310.70,54.15 L311.18,53.46 L311.66,52.76 L312.14,52.06 L312.62,51.35 L313.10,50.64 L313.58,49.93 L314.06,49.22 L314.54,48.50 L315.02,47.78 L315.50,47.06 L315.98,46.33 L316.46,45.61 L316.94,44.87 L317.42,44.14 L317.90,43.40 L318.38,42.66 L318.86,41.91 L319.34,41.17 L319.58,40.79" stroke="#1a1aff" stroke-width="1.3" fill="none" stroke-linejoin="round"/>
<path d="M27.50,179.66 L27.98,179.66 L28.46,179.66 L28.94,179.66 L29.42,179.66 L29.90,179.66 L30.38,179.66 L30.86,179.66 L31.34,179.66 L31.82,179.66 L32.30,179.66 L32.78,179.66 L33.26,179.66 L33.74,179.66 L34.22,179.66 L34.70,179.66 L35.18,179.66 L35.66,179.66 L36.14,179.66 L36.62,179.66 L37.10,179.66 L37.58,179.66 L38.06,179.66 L38.54,179.66 L39.02,179.66 L39.50,179.66 L39.98,179.66 L40.46,179.66 L40.94,179.66 L41.42,179.66 L41.90,179.66 L42.38,179.66 L42.86,179.66 L43.34,179.66 L43.82,179.66 L44.30,179.66 L44.78,179.66 L45.26,179.66 L45.74,179.66 L46.22,179.66 L46.70,179.66 L47.18,179.66 L47.66,179.66 L48.14,179.66 L48.62,179.66 L49.10,179.66 L49.58,179.66 L50.06,179.66 L50.54,179.66 L51.02,179.66 L51.50,179.66 L51.98,179.66 L52.46,179.66 L52.94,179.66 L53.42,179.66 L53.90,179.66 L54.38,179.66 L54.86,179.66 L55.34,179.66 L55.82,179.66 L56.30,179.66 L56.78,179.66 L57.26,179.66 L57.74,179.66 L58.22,179.66 L58.70,179.66 L59.18,179.66 L59.66,179.66 L60.14,179.66 L60.62,179.66 L61.10,179.66 L61.58,179.66 L62.06,179.66 L62.54,179.66 L63.02,179.66 L63.50,179.66 L63.98,179.66 L64.46,179.66 L64.94,179.66 L65.42,179.66 L65.90,179.66 L66.38,179.66 L66.86,179.66 L67.34,179.66 L67.82,179.66 L68.30,179.66 L68.78,179.66 L69.26,179.66 L69.74,179.66 L70.22,179.66 L70.70,179.66 L71.18,179.66 L71.66,179.66 L72.14,179.66 L72.62,179.66 L73.10,179.66 L73.58,179.66 L74.06,179.66 L74.54,179.66 L75.02,179.66 L75.50,179.66 L75.98,179.66 L76.46,179.66 L76.94,179.66 L77.42,179.66 L77.90,179.66 L78.38,179.66 L78.86,179.66 L79.34,179.66 L79.82,179.66 L80.30,179.66 L80.78,179.66 L81.26,179.66 L81.74,179.66 L82.22,179.66 L82.70,179.66 L83.18,179.66 L83.66,179.66 L84.14,179.66 L84.62,179.66 L85.10,179.66 L85.58,179.66 L86.06,179.66 L86.54,179.66 L87.02,179.66 L87.50,179.66 L87.98,179.66 L88.46,179.66 L88.94,179.66 L89.42,179.66 L89.90,179.66 L90.38,179.66 L90.86,179.66 L91.34,179.66 L91.82,179.66 L92.30,179.66 L92.78,179.66 L93.26,179.66 L93.74,179.66 L94.22,179.66 L94.70,179.66 L95.18,179.66 L95.66,179.66 L96.14,179.66 L96.62,179.66 L97.10,179.66 L97.58,179.66 L98.06,179.66 L98.54,179.66 L99.02,179.66 L99.50,179.66 L99.98,179.66 L100.46,179.66 L100.94,179.66 L101.42,179.66 L101.90,179.66 L102.38,179.66 L102.86,179.66 L103.34,179.66 L103.82,179.66 L104.30,179.66 L104.78,179.66 L105.26,179.66 L105.74,179.66 L106.22,179.66 L106.70,179.66 L107.18,179.66 L107.66,179.66 L108.14,179.66 L108.62,179.66 L109.10,179.66 L109.58,179.66 L110.06,179.66 L110.54,179.66 L111.02,179.66 L111.50,179.66 L111.98,179.66 L112.46,179.66 L112.94,179.66 L113.42,179.66 L113.90,179.66 L114.38,179.66 L114.86,179.66 L115.34,179.66 L115.82,179.66 L116.30,179.66 L116.78,179.66 L117.26,179.66 L117.74,179.66 L118.22,179.66 L118.70,179.66 L119.18,179.66 L119.66,179.66 L120.14,179.66 L120.62,179.66 L121.10,179.66 L121.58,179.66 L122.06,179.66 L122.54,179.66 L123.02,179.66 L123.50,179.66 L123.98,179.66 L124.46,179.66 L124.94,179.66 L125.42,179.66 L125.90,179.66 L126.38,179.66 L126.86,179.66 L127.34,179.66 L127.82,179.66 L128.30,179.66 L128.78,179.66 L129.26,179.66 L129.74,179.66 L130.22,179.66 L130.70,179.66 L131.18,179.66 L131.66,179.66 L132.14,179.66 L132.62,179.66 L133.10,179.66 L133.58,179.66 L134.06,179.66 L134.54,179.66 L135.02,179.66 L135.50,179.66 L135.98,179.66 L136.46,179.66 L136.94,179.66 L137.42,179.66 L137.90,179.66 L138.38,179.66 L138.86,179.66 L139.34,179.66 L139.82,179.66 L140.30,179.66 L140.78,179.66 L141.26,179.66 L141.74,179.66 L142.22,179.66 L142.70,179.66 L143.18,179.66 L143.66,179.66 L144.14,179.66 L144.62,179.66 L145.10,179.66 L145.58,179.66 L146.06,179.66 L146.54,179.66 L147.02,179.66 L147.50,179.66 L147.98,179.66 L148.46,179.66 L148.94,179.66 L149.42,179.66 L149.90,179.66 L150.38,179.66 L150.86,179.66 L151.34,179.66 L151.82,179.66 L152.30,179.66 L152.78,179.66 L153.26,179.66 L153.74,179.66 L154.22,179.66 L154.70,179.66 L155.18,179.66 L155.66,179.66 L156.14,179.66 L156.62,179.66 L157.10,179.66 L157.58,179.66 L158.06,179.66 L158.54,179.66 L159.02,179.66 L159.50,179.66 L159.98,179.66 L160.46,179.66 L160.94,179.66 L161.42,179.66 L161.90,179.66 L162.38,179.66 L162.86,179.66 L163.34,179.66 L163.82,179.66 L164.30,179.66 L164.78,179.66 L165.26,179.66 L165.74,179.66 L166.22,179.66 L166.70,179.66 L167.18,179.66 L167.66,179.66 L168.14,179.66 L168.62,179.66 L169.10,179.66 L169.58,179.66 L170.06,179.66 L170.54,179.66 L171.02,179.66 L171.50,179.66 L171.98,179.66 L172.46,179.66 L172.94,179.66 L173.42,179.66 L173.90,179.66 L174.38,179.66 L174.86,179.66 L175.34,179.66 L175.82,179.66 L176.30,179.66 L176.78,179.66 L177.26,179.66 L177.74,179.66 L178.22,179.66 L178.70,179.66 L179.18,179.66 L179.66,179.66 L180.14,179.66 L180.62,179.66 L181.10,179.66 L181.58,179.66 L182.06,179.66 L182.54,179.66 L183.02,179.66 L183.50,179.66 L183.98,179.66 L184.46,179.66 L184.94,179.66 L185.42,179.66 L185.90,179.66 L186.38,179.66 L186.86,179.66 L187.34,179.66 L187.82,179.66 L188.30,179.66 L188.78,179.66 L189.26,179.66 L189.74,179.66 L190.22,179.66 L190.70,179.66 L191.18,179.66 L191.66,179.66 L192.14,179.66 L192.62,179.66 L193.10,179.66 L193.58,179.66 L194.06,179.66 L194.54,179.66 L195.02,179.66 L195.50,179.66 L195.98,179.66 L196.46,179.66 L196.94,179.66 L197.42,179.66 L197.90,179.66 L198.38,179.66 L198.86,179.66 L199.34,179.66 L199.82,179.66 L200.30,179.66 L200.78,179.66 L201.26,179.66 L201.74,179.66 L202.22,179.66 L202.70,179.66 L203.18,179.66 L203.66,179.66 L204.14,179.66 L204.62,179.66 L205.10,179.66 L205.58,179.66 L206.06,179.66 L206.54,179.66 L207.02,179.66 L207.50,179.66 L207.98,179.66 L208.46,179.66 L208.94,179.66 L209.42,179.66 L209.90,179.66 L210.38,179.66 L210.86,179.66 L211.34,179.66 L211.82,179.66 L212.30,179.66 L212.78,179.66 L213.26,179.66 L213.74,179.66 L214.22,179.66 L214.70,179.66 L215.18,179.66 L215.66,179.66 L216.14,179.66 L216.62,179.66 L217.10,179.66 L217.58,179.66 L218.06,179.66 L218.54,179.66 L219.02,179.66 L219.50,179.66 L219.98,179.66 L220.46,179.66 L220.94,179.66 L221.42,179.66 L221.90,179.66 L222.38,179.66 L222.86,179.66 L223.34,179.66 L223.82,179.66 L224.30,179.66 L224.78,179.66 L225.26,179.66 L225.74,179.66 L226.22,179.66 L226.70,179.66 L227.18,179.66 L227.66,179.66 L228.14,179.66 L228.62,179.66 L229.10,179.66 L229.58,179.66 L230.06,179.66 L230.54,179.66 L231.02,179.66 L231.50,179.66 L231.98,179.66 L232.46,179.66 L232.94,179.66 L233.42,179.66 L233.90,179.66 L234.38,179.66 L234.86,179.66 L235.34,179.66 L235.82,179.66 L236.30,179.66 L236.78,179.66 L237.26,179.66 L237.74,179.66 L238.22,179.66 L238.70,179.66 L239.18,179.66 L239.66,179.66 L240.14,179.66 L240.62,179.66 L241.10,179.66 L241.58,179.66 L242.06,179.66 L242.54,179.66 L243.02,179.66 L243.50,179.66 L243.98,179.66 L244.46,179.66 L244.94,179.66 L245.42,179.66 L245.90,179.66 L246.38,179.66 L246.86,179.66 L247.34,179.66 L247.82,179.66 L248.30,179.66 L248.78,179.66 L249.26,179.66 L249.74,179.66 L250.22,179.66 L250.70,179.66 L251.18,179.66 L251.66,179.66 L252.14,179.66 L252.62,179.66 L253.10,179.66 L253.58,179.66 L254.06,179.66 L254.54,179.66 L255.02,179.66 L255.50,179.66 L255.98,179.66 L256.46,179.66 L256.94,179.66 L257.42,179.66 L257.90,179.66 L258.38,179.66 L258.86,179.66 L259.34,179.66 L259.82,179.66 L260.30,179.66 L260.78,179.66 L261.26,179.66 L261.74,179.66 L262.22,179.66 L262.70,179.66 L263.18,179.66 L263.66,179.66 L264.14,179.66 L264.62,179.66 L265.10,179.66 L265.58,179.66 L266.06,179.66 L266.54,179.66 L267.02,179.66 L267.50,179.66 L267.98,179.66 L268.46,179.66 L268.94,179.66 L269.42,179.66 L269.90,179.66 L270.38,179.66 L270.86,179.66 L271.34,179.66 L271.82,179.66 L272.30,179.66 L272.78,179.66 L273.26,179.66 L273.74,179.66 L274.22,179.66 L274.70,179.66 L275.18,179.66 L275.66,179.66 L276.14,179.66 L276.62,179.66 L277.10,179.66 L277.58,179.66 L278.06,179.66 L278.54,179.66 L279.02,179.66 L279.50,179.66 L279.98,179.66 L280.46,179.66 L280.94,179.66 L281.42,179.66 L281.90,179.66 L282.38,179.66 L282.86,179.66 L283.34,179.66 L283.82,179.66 L284.30,179.66 L284.78,179.66 L285.26,179.66 L285.74,179.66 L286.22,179.66 L286.70,179.66 L287.18,179.66 L287.66,179.66 L288.14,179.66 L288.62,179.66 L289.10,179.66 L289.58,179.66 L290.06,179.66 L290.54,179.66 L291.02,179.66 L291.50,179.66 L291.98,179.66 L292.46,179.66 L292.94,179.66 L293.42,179.66 L293.90,179.66 L294.38,179.66 L294.86,179.66 L295.34,179.66 L295.82,179.66 L296.30,179.66 L296.78,179.66 L297.26,179.66 L297.74,179.66 L298.22,179.66 L298.70,179.66 L299.18,179.66 L299.66,179.66 L300.14,179.66 L300.62,179.66 L301.10,179.66 L301.58,179.66 L302.06,179.66 L302.54,179.66 L303.02,179.66 L303.50,179.66 L303.98,179.66 L304.46,179.66 L304.94,179.66 L305.42,179.66 L305.90,179.66 L306.38,179.66 L306.86,179.66 L307.34,179.66 L307.82,179.66 L308.30,179.66 L308.78,179.66 L309.26,179.66 L309.74,179.66 L310.22,179.66 L310.70,179.66 L311.18,179.66 L311.66,179.66 L312.14,179.66 L312.62,179.66 L313.10,179.66 L313.58,179.66 L314.06,179.66 L314.54,179.66 L315.02,179.66 L315.50,179.66 L315.98,179.66 L316.46,179.66 L316.94,179.66 L317.42,179.66 L317.90,179.66 L318.38,179.66 L318.86,179.66 L319.34,179.66 L319.82,179.66 L320.30,179.66 L320.78,179.66 L321.26,179.66 L321.74,179.66 L322.22,179.66 L322.70,179.66 L323.18,179.66 L323.66,179.66 L324.14,179.66 L324.62,179.66 L325.10,179.66 L325.58,179.66 L326.06,179.66 L326.54,179.66 L327.02,179.66 L327.50,179.66 L327.98,179.66 L328.46,179.66 L328.94,179.66 L329.42,179.66 L329.90,179.66 L330.38,179.66 L330.86,179.66 L331.34,179.66 L331.82,179.66 L332.30,179.66 L332.78,179.66 L333.26,179.66 L333.74,179.66 L334.22,179.66 L334.70,179.66 L335.18,179.66 L335.66,179.66 L336.14,179.66 L336.62,179.66 L337.10,179.66 L337.58,179.66 L338.06,179.66 L338.54,179.66 L339.02,179.66 L339.50,179.66 L339.98,179.66 L340.46,179.66 L340.94,179.66 L341.42,179.66 L341.90,179.66 L342.38,179.66 L342.86,179.66 L343.34,179.66 L343.82,179.66 L344.30,179.66 L344.78,179.66 L345.26,179.66 L345.74,179.66 L346.22,179.66 L346.70,179.66 L347.18,179.66 L347.66,179.66 L348.14,179.66 L348.62,179.66 L349.10,179.66 L349.58,179.66 L350.06,179.66 L350.54,179.66 L351.02,179.66 L351.50,179.66 L351.98,179.66 L352.46,179.66 L352.94,179.66 L353.42,179.66 L353.90,179.66 L354.38,179.66 L354.86,179.66 L355.34,179.66 L355.82,179.66 L356.30,179.66 L356.78,179.66 L357.26,179.66 L357.74,179.66 L358.22,179.66 L358.70,179.66 L359.18,179.66 L359.66,179.66 L360.14,179.66 L360.62,179.66 L361.10,179.66 L361.58,179.66 L362.06,179.66 L362.54,179.66 L363.02,179.66 L363.50,179.66" stroke="#a0703c" stroke-width="1.3" fill="none" stroke-linejoin="round"/>
<path d="M27.50,179.46 L27.98,179.47 L28.46,179.48 L28.94,179.49 L29.42,179.50 L29.90,179.51 L30.38,179.52 L30.86,179.53 L31.34,179.54 L31.82,179.55 L32.30,179.56 L32.78,179.57 L33.26,179.58 L33.74,179.59 L34.22,179.60 L34.70,179.62 L35.18,179.63 L35.66,179.64 L36.14,179.65 L36.62,179.66 L37.10,179.67 L37.58,179.68 L38.06,179.69 L38.54,179.70 L39.02,179.71 L39.50,179.72 L39.98,179.73 L40.46,179.74 L40.94,179.76 L41.42,179.77 L41.90,179.78 L42.38,179.79 L42.86,179.80 L43.34,179.81 L43.82,179.82 L44.30,179.84 L44.78,179.85 L45.26,179.86 L45.74,179.87 L46.22,179.88 L46.70,179.90 L47.18,179.91 L47.66,179.92 L48.14,179.93 L48.62,179.94 L49.10,179.96 L49.58,179.97 L50.06,179.98 L50.54,179.99 L51.02,180.01 L51.50,180.02 L51.98,180.03 L52.46,180.05 L52.94,180.06 L53.42,180.07 L53.90,180.08 L54.38,180.10 L54.86,180.11 L55.34,180.12 L55.82,180.14 L56.30,180.15 L56.78,180.17 L57.26,180.18 L57.74,180.19 L58.22,180.21 L58.70,180.22 L59.18,180.23 L59.66,180.25 L60.14,180.26 L60.62,180.28 L61.10,180.29 L61.58,180.31 L62.06,180.32 L62.54,180.34 L63.02,180.35 L63.50,180.36 L63.98,180.38 L64.46,180.39 L64.94,180.41 L65.42,180.42 L65.90,180.44 L66.38,180.46 L66.86,180.47 L67.34,180.49 L67.82,180.50 L68.30,180.52 L68.78,180.53 L69.26,180.55 L69.74,180.57 L70.22,180.58 L70.70,180.60 L71.18,180.61 L71.66,180.63 L72.14,180.65 L72.62,180.66 L73.10,180.68 L73.58,180.70 L74.06,180.72 L74.54,180.73 L75.02,180.75 L75.50,180.77 L75.98,180.78 L76.46,180.80 L76.94,180.82 L77.42,180.84 L77.90,180.85 L78.38,180.87 L78.86,180.89 L79.34,180.91 L79.82,180.93 L80.30,180.95 L80.78,180.96 L81.26,180.98 L81.74,181.00 L82.22,181.02 L82.70,181.04 L83.18,181.06 L83.66,181.08 L84.14,181.10 L84.62,181.12 L85.10,181.14 L85.58,181.16 L86.06,181.18 L86.54,181.20 L87.02,181.22 L87.50,181.24 L87.98,181.26 L88.46,181.28 L88.94,181.30 L89.42,181.31 L89.90,181.33 L90.38,181.34 L90.86,181.36 L91.34,181.38 L91.82,181.39 L92.30,181.41 L92.78,181.42 L93.26,181.44 L93.74,181.46 L94.22,181.47 L94.70,181.49 L95.18,181.51 L95.66,181.53 L96.14,181.54 L96.62,181.56 L97.10,181.58 L97.58,181.60 L98.06,181.61 L98.54,181.63 L99.02,181.65 L99.50,181.67 L99.98,181.69 L100.46,181.70 L100.94,181.72 L101.42,181.74 L101.90,181.76 L102.38,181.78 L102.86,181.80 L103.34,181.82 L103.82,181.84 L104.30,181.86 L104.78,181.88 L105.26,181.90 L105.74,181.92 L106.22,181.94 L106.70,181.96 L107.18,181.98 L107.66,182.00 L108.14,182.02 L108.62,182.04 L109.10,182.06 L109.58,182.08 L110.06,182.11 L110.54,182.13 L111.02,182.15 L111.50,182.17 L111.98,182.19 L112.46,182.22 L112.94,182.24 L113.42,182.26 L113.90,182.28 L114.38,182.31 L114.86,182.33 L115.34,182.35 L115.82,182.38 L116.30,182.40 L116.78,182.42 L117.26,182.45 L117.74,182.47 L118.22,182.49 L118.70,182.52 L119.18,182.54 L119.66,182.57 L120.14,182.59 L120.62,182.62 L121.10,182.64 L121.58,182.67 L122.06,182.69 L122.54,182.72 L123.02,182.75 L123.50,182.77 L123.98,182.80 L124.46,182.83 L124.94,182.85 L125.42,182.88 L125.90,182.91 L126.38,182.93 L126.86,182.96 L127.34,182.99 L127.82,183.02 L128.30,183.04 L128.78,183.07 L129.26,183.10 L129.74,183.13 L130.22,183.16 L130.70,183.19 L131.18,183.21 L131.66,183.24 L132.14,183.27 L132.62,183.30 L133.10,183.33 L133.58,183.36 L134.06,183.39 L134.54,183.42 L135.02,183.45 L135.50,183.48 L135.98,183.52 L136.46,183.55 L136.94,183.58 L137.42,183.61 L137.90,183.64 L138.38,183.67 L138.86,183.71 L139.34,183.74 L139.82,183.77 L140.30,183.80 L140.78,183.84 L141.26,183.87 L141.74,183.90 L142.22,183.94 L142.70,183.97 L143.18,184.00 L143.66,184.04 L144.14,184.07 L144.62,184.11 L145.10,184.14 L145.58,184.18 L146.06,184.21 L146.54,184.25 L147.02,184.28 L147.50,184.32 L147.98,184.35 L148.46,184.39 L148.94,184.43 L149.42,184.46 L149.90,184.50 L150.38,184.54 L150.86,184.57 L151.34,184.61 L151.82,184.65 L152.30,184.69 L152.78,184.73 L153.26,184.76 L153.74,184.80 L154.22,184.84 L154.70,184.88 L155.18,184.92 L155.66,184.96 L156.14,185.00 L156.62,185.04 L157.10,185.08 L157.58,185.12 L158.06,185.16 L158.54,185.20 L159.02,185.24 L159.50,185.28 L159.98,185.33 L160.46,185.37 L160.94,185.41 L161.42,185.45 L161.90,185.49 L162.38,185.54 L162.86,185.58 L163.34,185.62 L163.82,185.67 L164.30,185.71 L164.78,185.75 L165.26,185.80 L165.74,185.84 L166.22,185.89 L166.70,185.93 L167.18,185.97 L167.66,186.01 L168.14,186.04 L168.62,186.08 L169.10,186.12 L169.58,186.15 L170.06,186.19 L170.54,186.23 L171.02,186.27 L171.50,186.31 L171.98,186.34 L172.46,186.38 L172.94,186.42 L173.42,186.46 L173.90,186.50 L174.38,186.54 L174.86,186.58 L175.34,186.62 L175.82,186.66 L176.30,186.71 L176.78,186.75 L177.26,186.79 L177.74,186.83 L178.22,186.87 L178.70,186.91 L179.18,186.96 L179.66,187.00 L180.14,187.04 L180.62,187.09 L181.10,187.13 L181.58,187.17 L182.06,187.22 L182.54,187.26 L183.02,187.31 L183.50,187.35 L183.98,187.40 L184.46,187.44 L184.94,187.49 L185.42,187.54 L185.90,187.58 L186.38,187.63 L186.86,187.67 L187.34,187.72 L187.82,187.77 L188.30,187.82 L188.78,187.87 L189.26,187.91 L189.74,187.96 L190.22,188.01 L190.70,188.06 L191.18,188.11 L191.66,188.16 L192.14,188.21 L192.62,188.26 L193.10,188.31 L193.58,188.36 L194.06,188.41 L194.54,188.46 L195.02,188.52 L195.50,188.57 L195.98,188.62 L196.46,188.67 L196.94,188.73 L197.42,188.78 L197.90,188.83 L198.38,188.89 L198.86,188.94 L199.34,188.99 L199.82,189.05 L200.30,189.11 L200.78,189.18 L201.26,189.24 L201.74,189.31 L202.22,189.37 L202.70,189.44 L203.18,189.50 L203.66,189.57 L204.14,189.64 L204.62,189.71 L205.10,189.77 L205.58,189.84 L206.06,189.91 L206.54,189.98 L207.02,190.05 L207.50,190.12 L207.98,190.19 L208.46,190.26 L208.94,190.33 L209.42,190.40 L209.90,190.47 L210.38,190.54 L210.86,190.61 L211.34,190.68 L211.82,190.75 L212.30,190.83 L212.78,190.90 L213.26,190.97 L213.74,191.05 L214.22,191.12 L214.70,191.19 L215.18,191.27 L215.66,191.34 L216.14,191.42 L216.62,191.49 L217.10,191.57 L217.58,191.64 L218.06,191.72 L218.54,191.80 L219.02,191.87 L219.50,191.95 L219.98,192.03 L220.46,192.11 L220.94,192.19 L221.42,192.26 L221.90,192.34 L222.38,192.42 L222.86,192.50 L223.34,192.58 L223.82,192.66 L224.30,192.74 L224.78,192.82 L225.26,192.91 L225.74,192.99 L226.22,193.07 L226.70,193.15 L227.18,193.23 L227.66,193.32 L228.14,193.40 L228.62,193.49 L229.10,193.57 L229.58,193.65 L230.06,193.74 L230.54,193.82 L231.02,193.91 L231.50,194.00 L231.98,194.08 L232.46,194.17 L232.94,194.25 L233.42,194.34 L233.90,194.43 L234.38,194.52 L234.86,194.61 L235.34,194.69 L235.82,194.78 L236.30,194.87 L236.78,194.96 L237.26,195.05 L237.74,195.14 L238.22,195.23 L238.70,195.33 L239.18,195.42 L239.66,195.51 L240.14,195.60 L240.62,195.69 L241.10,195.79 L241.58,195.88 L242.06,195.97 L242.54,196.07 L243.02,196.16 L243.50,196.26 L243.98,196.35 L244.46,196.45 L244.94,196.55 L245.42,196.64 L245.90,196.74 L246.38,196.84 L246.86,196.93 L247.34,197.03 L247.82,197.13 L248.30,197.23 L248.78,197.33 L249.26,197.43 L249.74,197.53 L250.22,197.63 L250.70,197.73 L251.18,197.83 L251.66,197.93 L252.14,198.03 L252.62,198.13 L253.10,198.24 L253.58,198.34 L254.06,198.44 L254.54,198.55 L255.02,198.65 L255.50,198.76 L255.98,198.86 L256.46,198.97 L256.94,199.07 L257.42,199.18 L257.90,199.28 L258.38,199.39 L258.86,199.50 L259.34,199.61 L259.82,199.71 L260.30,199.82 L260.78,199.93 L261.26,200.04 L261.74,200.15 L262.22,200.26 L262.70,200.37 L263.18,200.48 L263.66,200.59 L264.14,200.71 L264.62,200.82 L265.10,200.93 L265.58,201.04 L266.06,201.16 L266.54,201.27 L267.02,201.39 L267.50,201.50 L267.98,201.61 L268.46,201.73 L268.94,201.84 L269.42,201.96 L269.90,202.07 L270.38,202.19 L270.86,202.30 L271.34,202.42 L271.82,202.53 L272.30,202.65 L272.78,202.77 L273.26,202.89 L273.74,203.00 L274.22,203.12 L274.70,203.24 L275.18,203.36 L275.66,203.48 L276.14,203.60 L276.62,203.72 L277.10,203.84 L277.58,203.97 L278.06,204.09 L278.54,204.21 L279.02,204.33 L279.50,204.46 L279.98,204.58 L280.46,204.70 L280.94,204.83 L281.42,204.95 L281.90,205.08 L282.38,205.21 L282.86,205.33 L283.34,205.46 L283.82,205.59 L284.30,205.72 L284.78,205.84 L285.26,205.97 L285.74,206.10 L286.22,206.23 L286.70,206.36 L287.18,206.49 L287.66,206.62 L288.14,206.75 L288.62,206.89 L289.10,207.02 L289.58,207.15 L290.06,207.28 L290.54,207.42 L291.02,207.55 L291.50,207.69 L291.98,207.82 L292.46,207.96 L292.94,208.09 L293.42,208.23 L293.90,208.37 L294.38,208.50 L294.86,208.64 L295.34,208.78 L295.82,208.92 L296.30,209.06 L296.78,209.20 L297.26,209.34 L297.74,209.48 L298.22,209.62 L298.70,209.76 L299.18,209.90 L299.66,210.04 L300.14,210.18 L300.62,210.32 L301.10,210.47 L301.58,210.61 L302.06,210.75 L302.54,210.89 L303.02,211.04 L303.50,211.18 L303.98,211.33 L304.46,211.47 L304.94,211.62 L305.42,211.76 L305.90,211.91 L306.38,212.06 L306.86,212.21 L307.34,212.36 L307.82,212.50 L308.30,212.65 L308.78,212.80 L309.26,212.95 L309.74,213.10 L310.22,213.26 L310.70,213.41 L311.18,213.56 L311.66,213.71 L312.14,213.87 L312.62,214.02 L313.10,214.17 L313.58,214.33 L314.06,214.48 L314.54,214.64 L315.02,214.80 L315.50,214.95 L315.98,215.11 L316.46,215.27 L316.94,215.42 L317.42,215.58 L317.90,215.74 L318.38,215.90 L318.86,216.06 L319.34,216.22 L319.82,216.39 L320.30,216.55 L320.78,216.71 L321.26,216.87 L321.74,217.04 L322.22,217.20 L322.70,217.36 L323.18,217.53 L323.66,217.69 L324.14,217.86 L324.62,218.03 L325.10,218.19 L325.58,218.36 L326.06,218.53 L326.54,218.70 L327.02,218.87 L327.50,219.04 L327.98,219.21 L328.46,219.38 L328.94,219.55 L329.42,219.72 L329.90,219.89 L330.38,220.06 L330.86,220.24 L331.34,220.41 L331.82,220.59 L332.30,220.76 L332.78,220.94 L333.26,221.11 L333.74,221.29 L334.22,221.47 L334.70,221.64 L335.18,221.82 L335.66,222.00 L336.14,222.18 L336.62,222.36 L337.10,222.54 L337.58,222.72 L338.06,222.90 L338.54,223.08 L339.02,223.27 L339.50,223.45 L339.98,223.63 L340.46,223.82 L340.94,224.00 L341.42,224.19 L341.90,224.37 L342.38,224.56 L342.86,224.75 L343.34,224.93 L343.82,225.12 L344.30,225.31 L344.78,225.50 L345.26,225.69 L345.74,225.88 L346.22,226.07 L346.70,226.26 L347.18,226.45 L347.66,226.64 L348.14,226.84 L348.62,227.03 L349.10,227.23 L349.58,227.42 L350.06,227.62 L350.54,227.81 L351.02,228.01 L351.50,228.20 L351.98,228.40 L352.46,228.60 L352.94,228.80 L353.42,229.00 L353.90,229.20 L354.38,229.40 L354.86,229.60 L355.34,229.80 L355.82,230.00 L356.30,230.21 L356.78,230.41 L357.26,230.61 L357.74,230.82 L358.22,231.02 L358.70,231.23 L359.18,231.43 L359.66,231.64 L360.14,231.85 L360.62,232.06 L361.10,232.26 L361.58,232.47 L362.06,232.68 L362.54,232.89 L363.02,233.10 L363.50,233.32" stroke="#ff00ff" stroke-width="1.3" fill="none" stroke-linejoin="round"/>
<path d="M27.50,179.30 L27.98,179.30 L28.46,179.30 L28.94,179.30 L29.42,179.30 L29.90,179.29 L30.38,179.29 L30.86,179.29 L31.34,179.29 L31.82,179.29 L32.30,179.29 L32.78,179.28 L33.26,179.28 L33.74,179.28 L34.22,179.28 L34.70,179.28 L35.18,179.27 L35.66,179.27 L36.14,179.27 L36.62,179.27 L37.10,179.26 L37.58,179.26 L38.06,179.26 L38.54,179.26 L39.02,179.26 L39.50,179.25 L39.98,179.25 L40.46,179.25 L40.94,179.25 L41.42,179.24 L41.90,179.24 L42.38,179.24 L42.86,179.23 L43.34,179.23 L43.82,179.23 L44.30,179.23 L44.78,179.22 L45.26,179.22 L45.74,179.22 L46.22,179.22 L46.70,179.21 L47.18,179.21 L47.66,179.21 L48.14,179.20 L48.62,179.20 L49.10,179.20 L49.58,179.20 L50.06,179.19 L50.54,179.19 L51.02,179.19 L51.50,179.18 L51.98,179.18 L52.46,179.18 L52.94,179.17 L53.42,179.17 L53.90,179.17 L54.38,179.17 L54.86,179.16 L55.34,179.16 L55.82,179.16 L56.30,179.15 L56.78,179.15 L57.26,179.15 L57.74,179.14 L58.22,179.14 L58.70,179.14 L59.18,179.13 L59.66,179.13 L60.14,179.13 L60.62,179.12 L61.10,179.12 L61.58,179.12 L62.06,179.11 L62.54,179.11 L63.02,179.11 L63.50,179.10 L63.98,179.10 L64.46,179.10 L64.94,179.09 L65.42,179.09 L65.90,179.09 L66.38,179.08 L66.86,179.08 L67.34,179.07 L67.82,179.07 L68.30,179.07 L68.78,179.06 L69.26,179.06 L69.74,179.06 L70.22,179.05 L70.70,179.05 L71.18,179.05 L71.66,179.04 L72.14,179.04 L72.62,179.04 L73.10,179.03 L73.58,179.03 L74.06,179.02 L74.54,179.02 L75.02,179.02 L75.50,179.01 L75.98,179.01 L76.46,179.01 L76.94,179.00 L77.42,179.00 L77.90,178.99 L78.38,178.99 L78.86,178.99 L79.34,178.98 L79.82,178.98 L80.30,178.98 L80.78,178.97 L81.26,178.97 L81.74,178.96 L82.22,178.96 L82.70,178.96 L83.18,178.95 L83.66,178.95 L84.14,178.94 L84.62,178.94 L85.10,178.94 L85.58,178.93 L86.06,178.93 L86.54,178.92 L87.02,178.92 L87.50,178.92 L87.98,178.91 L88.46,178.91 L88.94,178.90 L89.42,178.90 L89.90,178.90 L90.38,178.89 L90.86,178.89 L91.34,178.88 L91.82,178.88 L92.30,178.88 L92.78,178.87 L93.26,178.87 L93.74,178.86 L94.22,178.86 L94.70,178.86 L95.18,178.85 L95.66,178.85 L96.14,178.84 L96.62,178.84 L97.10,178.83 L97.58,178.83 L98.06,178.83 L98.54,178.82 L99.02,178.82 L99.50,178.81 L99.98,178.81 L100.46,178.81 L100.94,178.80 L101.42,178.80 L101.90,178.79 L102.38,178.79 L102.86,178.78 L103.34,178.78 L103.82,178.78 L104.30,178.77 L104.78,178.77 L105.26,178.76 L105.74,178.76 L106.22,178.75 L106.70,178.75 L107.18,178.75 L107.66,178.74 L108.14,178.74 L108.62,178.73 L109.10,178.73 L109.58,178.72 L110.06,178.72 L110.54,178.72 L111.02,178.71 L111.50,178.71 L111.98,178.70 L112.46,178.70 L112.94,178.69 L113.42,178.69 L113.90,178.68 L114.38,178.68 L114.86,178.68 L115.34,178.67 L115.82,178.67 L116.30,178.66 L116.78,178.66 L117.26,178.65 L117.74,178.65 L118.22,178.64 L118.70,178.64 L119.18,178.63 L119.66,178.63 L120.14,178.63 L120.62,178.62 L121.10,178.62 L121.58,178.61 L122.06,178.61 L122.54,178.60 L123.02,178.60 L123.50,178.59 L123.98,178.59 L124.46,178.58 L124.94,178.58 L125.42,178.58 L125.90,178.57 L126.38,178.57 L126.86,178.56 L127.34,178.56 L127.82,178.55 L128.30,178.55 L128.78,178.54 L129.26,178.54 L129.74,178.53 L130.22,178.53 L130.70,178.52 L131.18,178.52 L131.66,178.51 L132.14,178.51 L132.62,178.51 L133.10,178.50 L133.58,178.50 L134.06,178.49 L134.54,178.49 L135.02,178.48 L135.50,178.48 L135.98,178.47 L136.46,178.47 L136.94,178.46 L137.42,178.46 L137.90,178.45 L138.38,178.45 L138.86,178.44 L139.34,178.44 L139.82,178.43 L140.30,178.43 L140.78,178.42 L141.26,178.42 L141.74,178.41 L142.22,178.41 L142.70,178.40 L143.18,178.40 L143.66,178.40 L144.14,178.39 L144.62,178.39 L145.10,178.38 L145.58,178.38 L146.06,178.37 L146.54,178.37 L147.02,178.36 L147.50,178.36 L147.98,178.35 L148.46,178.35 L148.94,178.34 L149.42,178.34 L149.90,178.33 L150.38,178.33 L150.86,178.32 L151.34,178.32 L151.82,178.31 L152.30,178.31 L152.78,178.30 L153.26,178.30 L153.74,178.29 L154.22,178.29 L154.70,178.28 L155.18,178.28 L155.66,178.27 L156.14,178.27 L156.62,178.26 L157.10,178.26 L157.58,178.25 L158.06,178.25 L158.54,178.24 L159.02,178.24 L159.50,178.23 L159.98,178.23 L160.46,178.22 L160.94,178.22 L161.42,178.21 L161.90,178.21 L162.38,178.20 L162.86,178.20 L163.34,178.19 L163.82,178.19 L164.30,178.18 L164.78,178.18 L165.26,178.17 L165.74,178.17 L166.22,178.16 L166.70,178.16 L167.18,178.15 L167.66,178.14 L168.14,178.14 L168.62,178.13 L169.10,178.13 L169.58,178.12 L170.06,178.12 L170.54,178.11 L171.02,178.11 L171.50,178.10 L171.98,178.10 L172.46,178.09 L172.94,178.09 L173.42,178.08 L173.90,178.08 L174.38,178.07 L174.86,178.07 L175.34,178.06 L175.82,178.06 L176.30,178.05 L176.78,178.05 L177.26,178.04 L177.74,178.04 L178.22,178.03 L178.70,178.03 L179.18,178.02 L179.66,178.01 L180.14,178.01 L180.62,178.00 L181.10,178.00 L181.58,177.99 L182.06,177.99 L182.54,177.98 L183.02,177.98 L183.50,177.97 L183.98,177.97 L184.46,177.96 L184.94,177.96 L185.42,177.95 L185.90,177.95 L186.38,177.94 L186.86,177.93 L187.34,177.93 L187.82,177.92 L188.30,177.92 L188.78,177.91 L189.26,177.91 L189.74,177.90 L190.22,177.90 L190.70,177.89 L191.18,177.89 L191.66,177.88 L192.14,177.88 L192.62,177.87 L193.10,177.87 L193.58,177.86 L194.06,177.85 L194.54,177.85 L195.02,177.84 L195.50,177.84 L195.98,177.83 L196.46,177.83 L196.94,177.82 L197.42,177.82 L197.90,177.81 L198.38,177.81 L198.86,177.80 L199.34,177.79 L199.82,177.79 L200.30,177.78 L200.78,177.78 L201.26,177.77 L201.74,177.77 L202.22,177.76 L202.70,177.76 L203.18,177.75 L203.66,177.74 L204.14,177.74 L204.62,177.73 L205.10,177.73 L205.58,177.72 L206.06,177.72 L206.54,177.71 L207.02,177.71 L207.50,177.70 L207.98,177.70 L208.46,177.69 L208.94,177.68 L209.42,177.68 L209.90,177.67 L210.38,177.67 L210.86,177.66 L211.34,177.66 L211.82,177.65 L212.30,177.65 L212.78,177.64 L213.26,177.63 L213.74,177.63 L214.22,177.62 L214.70,177.62 L215.18,177.61 L215.66,177.61 L216.14,177.60 L216.62,177.59 L217.10,177.59 L217.58,177.58 L218.06,177.58 L218.54,177.57 L219.02,177.57 L219.50,177.56 L219.98,177.56 L220.46,177.55 L220.94,177.54 L221.42,177.54 L221.90,177.53 L222.38,177.53 L222.86,177.52 L223.34,177.52 L223.82,177.51 L224.30,177.50 L224.78,177.50 L225.26,177.49 L225.74,177.49 L226.22,177.48 L226.70,177.48 L227.18,177.47 L227.66,177.46 L228.14,177.46 L228.62,177.45 L229.10,177.45 L229.58,177.44 L230.06,177.44 L230.54,177.43 L231.02,177.42 L231.50,177.42 L231.98,177.41 L232.46,177.41 L232.94,177.40 L233.42,177.40 L233.90,177.39 L234.38,177.38 L234.86,177.38 L235.34,177.37 L235.82,177.37 L236.30,177.36 L236.78,177.35 L237.26,177.35 L237.74,177.34 L238.22,177.34 L238.70,177.33 L239.18,177.33 L239.66,177.32 L240.14,177.31 L240.62,177.31 L241.10,177.30 L241.58,177.30 L242.06,177.29 L242.54,177.28 L243.02,177.28 L243.50,177.27 L243.98,177.27 L244.46,177.26 L244.94,177.26 L245.42,177.25 L245.90,177.24 L246.38,177.24 L246.86,177.23 L247.34,177.23 L247.82,177.22 L248.30,177.21 L248.78,177.21 L249.26,177.20 L249.74,177.20 L250.22,177.19 L250.70,177.18 L251.18,177.18 L251.66,177.17 L252.14,177.17 L252.62,177.16 L253.10,177.16 L253.58,177.15 L254.06,177.14 L254.54,177.14 L255.02,177.13 L255.50,177.13 L255.98,177.12 L256.46,177.11 L256.94,177.11 L257.42,177.10 L257.90,177.10 L258.38,177.09 L258.86,177.08 L259.34,177.08 L259.82,177.07 L260.30,177.07 L260.78,177.06 L261.26,177.05 L261.74,177.05 L262.22,177.04 L262.70,177.04 L263.18,177.03 L263.66,177.02 L264.14,177.02 L264.62,177.01 L265.10,177.01 L265.58,177.00 L266.06,176.99 L266.54,176.99 L267.02,176.98 L267.50,176.98 L267.98,176.97 L268.46,176.96 L268.94,176.96 L269.42,176.95 L269.90,176.95 L270.38,176.94 L270.86,176.93 L271.34,176.93 L271.82,176.92 L272.30,176.91 L272.78,176.91 L273.26,176.90 L273.74,176.90 L274.22,176.89 L274.70,176.88 L275.18,176.88 L275.66,176.87 L276.14,176.87 L276.62,176.86 L277.10,176.85 L277.58,176.85 L278.06,176.84 L278.54,176.84 L279.02,176.83 L279.50,176.82 L279.98,176.82 L280.46,176.81 L280.94,176.80 L281.42,176.80 L281.90,176.79 L282.38,176.79 L282.86,176.78 L283.34,176.77 L283.82,176.77 L284.30,176.76 L284.78,176.76 L285.26,176.75 L285.74,176.74 L286.22,176.74 L286.70,176.73 L287.18,176.72 L287.66,176.72 L288.14,176.71 L288.62,176.71 L289.10,176.70 L289.58,176.69 L290.06,176.69 L290.54,176.68 L291.02,176.68 L291.50,176.67 L291.98,176.66 L292.46,176.66 L292.94,176.65 L293.42,176.64 L293.90,176.64 L294.38,176.63 L294.86,176.63 L295.34,176.62 L295.82,176.61 L296.30,176.61 L296.78,176.60 L297.26,176.59 L297.74,176.59 L298.22,176.58 L298.70,176.58 L299.18,176.57 L299.66,176.56 L300.14,176.56 L300.62,176.55 L301.10,176.54 L301.58,176.54 L302.06,176.53 L302.54,176.52 L303.02,176.52 L303.50,176.51 L303.98,176.51 L304.46,176.50 L304.94,176.49 L305.42,176.49 L305.90,176.48 L306.38,176.47 L306.86,176.47 L307.34,176.46 L307.82,176.46 L308.30,176.45 L308.78,176.44 L309.26,176.44 L309.74,176.43 L310.22,176.42 L310.70,176.42 L311.18,176.41 L311.66,176.40 L312.14,176.40 L312.62,176.39 L313.10,176.39 L313.58,176.38 L314.06,176.37 L314.54,176.37 L315.02,176.36 L315.50,176.35 L315.98,176.35 L316.46,176.34 L316.94,176.33 L317.42,176.33 L317.90,176.32 L318.38,176.32 L318.86,176.31 L319.34,176.30 L319.82,176.30 L320.30,176.29 L320.78,176.28 L321.26,176.28 L321.74,176.27 L322.22,176.26 L322.70,176.26 L323.18,176.25 L323.66,176.24 L324.14,176.24 L324.62,176.23 L325.10,176.23 L325.58,176.22 L326.06,176.21 L326.54,176.21 L327.02,176.20 L327.50,176.19 L327.98,176.19 L328.46,176.18 L328.94,176.17 L329.42,176.17 L329.90,176.16 L330.38,176.15 L330.86,176.15 L331.34,176.14 L331.82,176.13 L332.30,176.13 L332.78,176.12 L333.26,176.12 L333.74,176.11 L334.22,176.10 L334.70,176.10 L335.18,176.09 L335.66,176.08 L336.14,176.08 L336.62,176.07 L337.10,176.06 L337.58,176.06 L338.06,176.05 L338.54,176.04 L339.02,176.04 L339.50,176.03 L339.98,176.02 L340.46,176.02 L340.94,176.01 L341.42,176.00 L341.90,176.00 L342.38,175.99 L342.86,175.98 L343.34,175.98 L343.82,175.97 L344.30,175.97 L344.78,175.96 L345.26,175.95 L345.74,175.95 L346.22,175.94 L346.70,175.93 L347.18,175.93 L347.66,175.92 L348.14,175.91 L348.62,175.91 L349.10,175.90 L349.58,175.89 L350.06,175.89 L350.54,175.88 L351.02,175.87 L351.50,175.87 L351.98,175.86 L352.46,175.85 L352.94,175.85 L353.42,175.84 L353.90,175.83 L354.38,175.83 L354.86,175.82 L355.34,175.81 L355.82,175.81 L356.30,175.80 L356.78,175.79 L357.26,175.79 L357.74,175.78 L358.22,175.77 L358.70,175.77 L359.18,175.76 L359.66,175.75 L360.14,175.75 L360.62,175.74 L361.10,175.73 L361.58,175.73 L362.06,175.72 L362.54,175.71 L363.02,175.71 L363.50,175.70" stroke="#a0a0a0" stroke-width="1.2" fill="none" stroke-linejoin="round"/>
<line x1="363.30" y1="175.20" x2="363.50" y2="179.30" stroke="#b0b0b0" stroke-width="0.9"/>
<g stroke="#000" stroke-width="0.6" fill="none">
<line x1="20.20" y1="179.45" x2="369.90" y2="179.45"/>
<line x1="27.50" y1="30.3" x2="27.50" y2="246.5"/>
<line x1="27.50" y1="179.30" x2="27.50" y2="176.80"/>
<line x1="37.10" y1="179.30" x2="37.10" y2="177.60"/>
<line x1="46.70" y1="179.30" x2="46.70" y2="177.60"/>
<line x1="56.30" y1="179.30" x2="56.30" y2="177.60"/>
<line x1="65.90" y1="179.30" x2="65.90" y2="177.60"/>
<line x1="75.50" y1="179.30" x2="75.50" y2="176.80"/>
<line x1="85.10" y1="179.30" x2="85.10" y2="177.60"/>
<line x1="94.70" y1="179.30" x2="94.70" y2="177.60"/>
<line x1="104.30" y1="179.30" x2="104.30" y2="177.60"/>
<line x1="113.90" y1="179.30" x2="113.90" y2="177.60"/>
<line x1="123.50" y1="179.30" x2="123.50" y2="176.80"/>
<line x1="133.10" y1="179.30" x2="133.10" y2="177.60"/>
<line x1="142.70" y1="179.30" x2="142.70" y2="177.60"/>
<line x1="152.30" y1="179.30" x2="152.30" y2="177.60"/>
<line x1="161.90" y1="179.30" x2="161.90" y2="177.60"/>
<line x1="171.50" y1="179.30" x2="171.50" y2="176.80"/>
<line x1="181.10" y1="179.30" x2="181.10" y2="177.60"/>
<line x1="190.70" y1="179.30" x2="190.70" y2="177.60"/>
<line x1="200.30" y1="179.30" x2="200.30" y2="177.60"/>
<line x1="209.90" y1="179.30" x2="209.90" y2="177.60"/>
<line x1="219.50" y1="179.30" x2="219.50" y2="176.80"/>
<line x1="229.10" y1="179.30" x2="229.10" y2="177.60"/>
<line x1="238.70" y1="179.30" x2="238.70" y2="177.60"/>
<line x1="248.30" y1="179.30" x2="248.30" y2="177.60"/>
<line x1="257.90" y1="179.30" x2="257.90" y2="177.60"/>
<line x1="267.50" y1="179.30" x2="267.50" y2="176.80"/>
<line x1="277.10" y1="179.30" x2="277.10" y2="177.60"/>
<line x1="286.70" y1="179.30" x2="286.70" y2="177.60"/>
<line x1="296.30" y1="179.30" x2="296.30" y2="177.60"/>
<line x1="305.90" y1="179.30" x2="305.90" y2="177.60"/>
<line x1="315.50" y1="179.30" x2="315.50" y2="176.80"/>
<line x1="325.10" y1="179.30" x2="325.10" y2="177.60"/>
<line x1="334.70" y1="179.30" x2="334.70" y2="177.60"/>
<line x1="344.30" y1="179.30" x2="344.30" y2="177.60"/>
<line x1="353.90" y1="179.30" x2="353.90" y2="177.60"/>
<line x1="27.50" y1="242.30" x2="29.10" y2="242.30"/>
<line x1="27.50" y1="233.30" x2="29.10" y2="233.30"/>
<line x1="27.50" y1="224.30" x2="30.20" y2="224.30"/>
<line x1="27.50" y1="215.30" x2="29.10" y2="215.30"/>
<line x1="27.50" y1="206.30" x2="29.10" y2="206.30"/>
<line x1="27.50" y1="197.30" x2="29.10" y2="197.30"/>
<line x1="27.50" y1="188.30" x2="29.10" y2="188.30"/>
<line x1="27.50" y1="179.30" x2="30.20" y2="179.30"/>
<line x1="27.50" y1="170.30" x2="29.10" y2="170.30"/>
<line x1="27.50" y1="161.30" x2="29.10" y2="161.30"/>
<line x1="27.50" y1="152.30" x2="29.10" y2="152.30"/>
<line x1="27.50" y1="143.30" x2="29.10" y2="143.30"/>
<line x1="27.50" y1="134.30" x2="30.20" y2="134.30"/>
<line x1="27.50" y1="125.30" x2="29.10" y2="125.30"/>
<line x1="27.50" y1="116.30" x2="29.10" y2="116.30"/>
<line x1="27.50" y1="107.30" x2="29.10" y2="107.30"/>
<line x1="27.50" y1="98.30" x2="29.10" y2="98.30"/>
<line x1="27.50" y1="89.30" x2="30.20" y2="89.30"/>
<line x1="27.50" y1="80.30" x2="29.10" y2="80.30"/>
<line x1="27.50" y1="71.30" x2="29.10" y2="71.30"/>
<line x1="27.50" y1="62.30" x2="29.10" y2="62.30"/>
<line x1="27.50" y1="53.30" x2="29.10" y2="53.30"/>
<line x1="27.50" y1="44.30" x2="30.20" y2="44.30"/>
<line x1="27.50" y1="35.30" x2="29.10" y2="35.30"/>
</g>
<g fill="#ff0000" stroke="#ff0000"><line x1="147.35" y1="190" x2="147.35" y2="197.6" stroke-width="0.9"/><polygon points="147.35,181.0 144.3,191.6 147.35,190.4 150.4,191.6" stroke="none"/></g>
<line x1="50.1" y1="42.10" x2="63.7" y2="42.10" stroke="#ff0000" stroke-width="1.4"/>
<line x1="50.1" y1="57.00" x2="63.7" y2="57.00" stroke="#ff8c1a" stroke-width="1.4"/>
<line x1="50.1" y1="71.80" x2="63.7" y2="71.80" stroke="#00ff00" stroke-width="1.4"/>
<line x1="50.1" y1="86.30" x2="63.7" y2="86.30" stroke="#00ffff" stroke-width="1.4"/>
<line x1="50.1" y1="101.90" x2="63.7" y2="101.90" stroke="#1a1aff" stroke-width="1.4"/>
<line x1="50.1" y1="117.20" x2="63.7" y2="117.20" stroke="#a0703c" stroke-width="1.4"/>
<line x1="50.1" y1="131.60" x2="63.7" y2="131.60" stroke="#ff00ff" stroke-width="1.4"/>
<line x1="50.1" y1="146.20" x2="63.7" y2="146.20" stroke="#7f7f7f" stroke-width="1.4"/>
<g style="will-change:opacity"><g transform="rotate(0.015 195 124)" fill="#000" stroke="#000" stroke-width="0.14" text-rendering="geometricPrecision" font-family="Liberation Sans, sans-serif">
<text x="67.80" y="44.60" font-size="8.10">perturbative part</text>
<text x="67.80" y="59.10" font-size="8.10" font-style="italic">m</text>
<text x="75.25" y="61.00" font-size="5.40" font-style="italic">s</text>
<text x="78.20" y="59.15" font-size="7.00">&lt;</text>
<text x="82.19" y="59.10" font-size="8.10" font-style="italic">s</text>
<line x1="82.09" y1="53.70" x2="86.84" y2="53.70" stroke="#000" stroke-width="0.7"/>
<text x="86.24" y="59.10" font-size="8.10" font-style="italic">s</text>
<text x="90.89" y="59.15" font-size="7.00">&gt;</text>
<text x="68.10" y="74.40" font-size="8.30">&lt;</text>
<text x="72.95" y="74.40" font-size="8.10" font-style="italic">g</text>
<text x="77.65" y="76.30" font-size="5.40" font-style="italic">s</text>
<text x="81.40" y="71.30" font-size="5.70">2</text>
<text x="84.57" y="74.40" font-size="8.10">GG</text>
<text x="97.22" y="74.40" font-size="8.30">&gt;</text>
<text x="67.80" y="89.20" font-size="8.10" font-style="italic">m</text>
<text x="75.25" y="91.10" font-size="5.40" font-style="italic">s</text>
<text x="77.95" y="89.20" font-size="8.30">&lt;</text>
<text x="82.79" y="89.20" font-size="8.10" font-style="italic">g</text>
<text x="87.50" y="91.10" font-size="5.40" font-style="italic">s</text>
<text x="90.15" y="89.20" font-size="8.10" font-style="italic">s</text>
<line x1="90.05" y1="83.70" x2="94.80" y2="83.70" stroke="#000" stroke-width="0.7"/>
<text x="94.20" y="89.20" font-size="8.10" font-style="italic">σ</text>
<text x="99.08" y="89.20" font-size="8.10">Gs</text>
<text x="109.68" y="89.20" font-size="8.30">&gt;</text>
<text x="68.10" y="104.95" font-size="7.00">&lt;</text>
<text x="72.09" y="104.90" font-size="8.10" font-style="italic">s</text>
<line x1="71.99" y1="98.70" x2="76.74" y2="98.70" stroke="#000" stroke-width="0.7"/>
<text x="76.14" y="104.90" font-size="8.10" font-style="italic">s</text>
<text x="80.79" y="104.95" font-size="7.00">&gt;</text>
<text x="85.38" y="101.80" font-size="5.70">2</text>
<text x="67.80" y="120.00" font-size="8.10" font-style="italic">m</text>
<text x="75.25" y="121.90" font-size="5.40" font-style="italic">s</text>
<text x="78.20" y="120.05" font-size="7.00">&lt;</text>
<text x="82.19" y="120.00" font-size="8.10" font-style="italic">s</text>
<line x1="82.09" y1="113.80" x2="86.84" y2="113.80" stroke="#000" stroke-width="0.7"/>
<text x="86.24" y="120.00" font-size="8.10" font-style="italic">s</text>
<text x="90.89" y="120.05" font-size="7.00">&gt;</text>
<text x="95.37" y="120.00" font-size="8.30">&lt;</text>
<text x="100.22" y="120.00" font-size="8.10" font-style="italic">g</text>
<text x="104.93" y="121.90" font-size="5.40" font-style="italic">s</text>
<text x="108.68" y="116.90" font-size="5.70">2</text>
<text x="111.85" y="120.00" font-size="8.10">GG</text>
<text x="124.50" y="120.00" font-size="8.30">&gt;</text>
<text x="68.10" y="134.35" font-size="7.00">&lt;</text>
<text x="72.09" y="134.30" font-size="8.10" font-style="italic">s</text>
<line x1="71.99" y1="128.80" x2="76.74" y2="128.80" stroke="#000" stroke-width="0.7"/>
<text x="76.14" y="134.30" font-size="8.10" font-style="italic">s</text>
<text x="80.79" y="134.35" font-size="7.00">&gt;</text>
<text x="85.28" y="134.30" font-size="8.30">&lt;</text>
<text x="90.12" y="134.30" font-size="8.10" font-style="italic">g</text>
<text x="94.83" y="136.20" font-size="5.40" font-style="italic">s</text>
<text x="97.48" y="134.30" font-size="8.10" font-style="italic">s</text>
<line x1="97.38" y1="128.80" x2="102.13" y2="128.80" stroke="#000" stroke-width="0.7"/>
<text x="101.53" y="134.30" font-size="8.10" font-style="italic">σ</text>
<text x="106.41" y="134.30" font-size="8.10">Gs</text>
<text x="117.01" y="134.30" font-size="8.30">&gt;</text>
<text x="67.80" y="148.50" font-size="8.10">dim−10</text>
<text x="75.50" y="190.00" font-size="8.30" text-anchor="middle">4</text>
<text x="123.50" y="190.00" font-size="8.30" text-anchor="middle">5</text>
<text x="171.50" y="190.00" font-size="8.30" text-anchor="middle">6</text>
<text x="219.50" y="190.00" font-size="8.30" text-anchor="middle">7</text>
<text x="267.50" y="190.00" font-size="8.30" text-anchor="middle">8</text>
<text x="315.20" y="190.00" font-size="8.30" text-anchor="middle">9</text>
<text x="363.20" y="190.00" font-size="8.30" text-anchor="middle">10</text>
<text x="25.70" y="47.60" font-size="8.30" text-anchor="end">15</text>
<text x="25.70" y="92.60" font-size="8.30" text-anchor="end">10</text>
<text x="25.70" y="137.60" font-size="8.30" text-anchor="end">5</text>
<text x="25.70" y="227.30" font-size="8.30" text-anchor="end">−5</text>
<text x="376.00" y="182.10" font-size="8.10" font-style="italic">M</text>
<text x="382.30" y="183.90" font-size="5.30" font-style="italic">B</text>
<text x="386.50" y="179.10" font-size="5.70">2</text>
<text x="-0.90" y="23.40" font-size="8.10">Π</text>
<text x="5.50" y="23.40" font-size="8.10">(</text>
<text x="8.80" y="23.40" font-size="9.30">∞</text>
<text x="14.00" y="23.40" font-size="8.10">,</text>
<text x="16.20" y="23.40" font-size="8.10" font-style="italic">M</text>
<text x="23.00" y="25.50" font-size="5.70" font-style="italic">B</text>
<text x="26.80" y="20.50" font-size="5.70">2</text>
<text x="30.30" y="23.40" font-size="8.10">)</text>
<text x="36.60" y="23.40" font-size="8.10">/10</text>
<text x="47.70" y="20.40" font-size="5.70">−6</text>
<text x="173.00" y="12.40" font-size="11.00" font-style="italic">J</text>
<text x="179.70" y="6.90" font-size="8.20" font-style="italic">P</text>
<text x="184.40" y="12.40" font-size="11.00">=</text>
<text x="191.50" y="12.40" font-size="11.00">0</text>
<text x="197.70" y="8.70" font-size="8.20">+</text>
<text x="203.80" y="12.40" font-size="11.00">, T</text>
</g></g>
</svg>
</body></html>
